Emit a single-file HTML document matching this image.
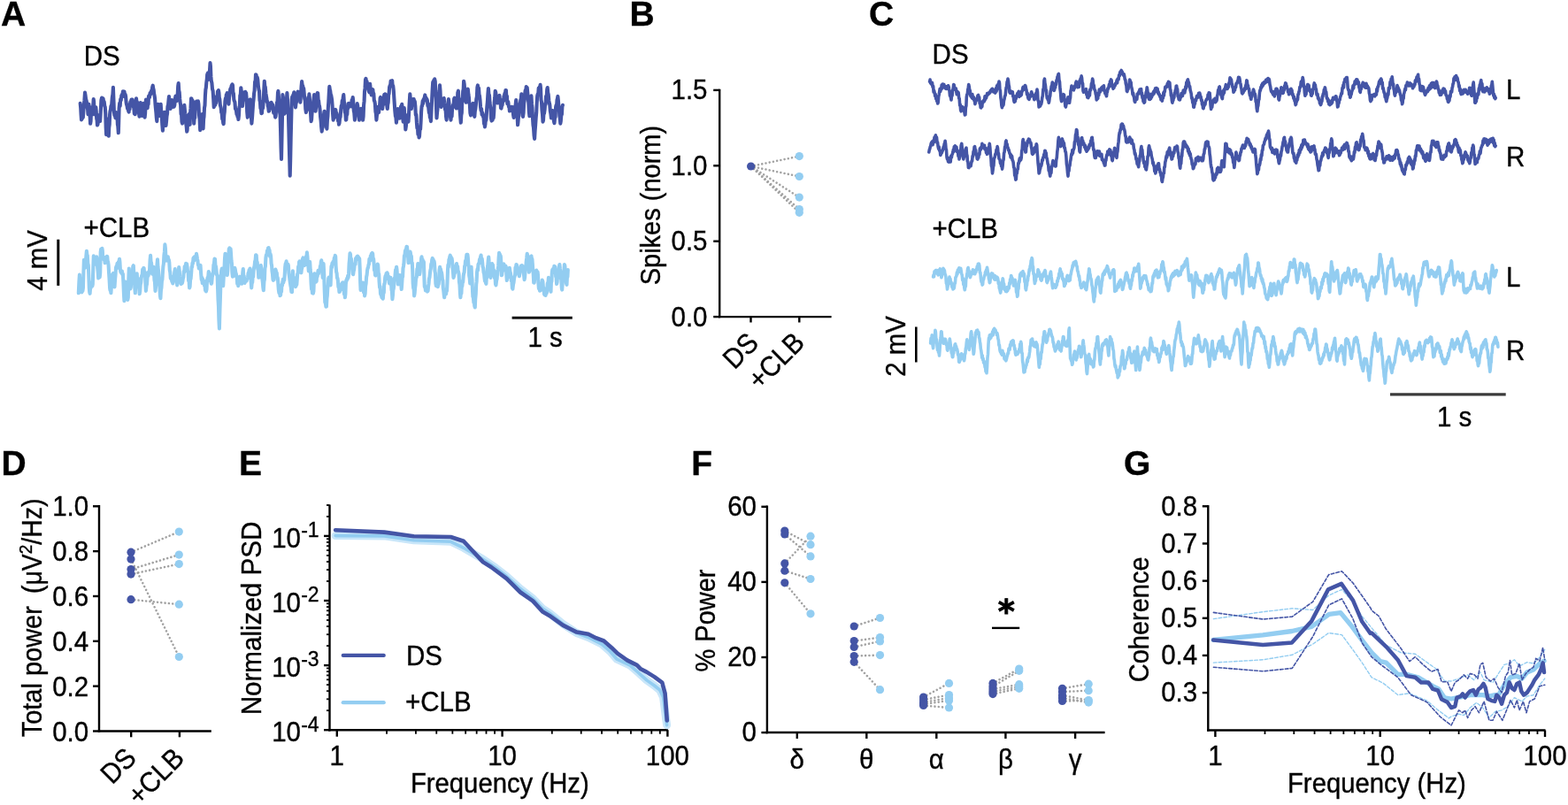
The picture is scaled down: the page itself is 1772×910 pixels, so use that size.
<!DOCTYPE html>
<html><head><meta charset="utf-8"><style>
html,body{margin:0;padding:0;background:#fff;}
svg{display:block;}
text{font-family:'Liberation Sans', Arial, sans-serif;fill:#000;stroke:#000;stroke-width:0.35px;}
</style></head><body>
<svg width="1772" height="910" viewBox="0 0 1772 910">
<rect width="1772" height="910" fill="#fff"/>
<text transform="translate(1.00 28.80)" font-size="39" font-weight="bold">A</text>
<text transform="translate(711.50 28.60)" font-size="39" font-weight="bold">B</text>
<text transform="translate(982.00 29.00)" font-size="39" font-weight="bold">C</text>
<text transform="translate(1.50 537.00)" font-size="39" font-weight="bold">D</text>
<text transform="translate(270.10 536.80)" font-size="39" font-weight="bold">E</text>
<text transform="translate(781.30 537.00)" font-size="39" font-weight="bold">F</text>
<text transform="translate(1270.00 537.00)" font-size="39" font-weight="bold">G</text>
<polyline points="90.7,116.9 91.2,122.0 91.6,129.7 92.0,135.4 92.5,132.5 92.9,134.3 93.3,131.6 93.8,132.7 94.3,126.9 94.9,118.5 95.4,113.4 96.0,104.6 96.5,107.6 97.1,112.2 97.6,113.6 98.2,116.9 98.6,121.3 99.1,123.7 99.5,129.2 99.9,126.3 100.4,117.8 100.8,122.9 101.3,129.5 101.7,132.1 102.1,139.8 102.6,136.8 103.0,125.5 103.5,121.3 103.9,125.3 104.3,123.3 104.8,129.2 105.2,120.8 105.7,112.1 106.1,114.9 106.5,124.5 107.0,129.2 107.4,126.1 107.8,124.3 108.3,121.3 108.7,125.3 109.2,134.2 109.6,135.8 110.0,141.5 110.5,140.6 110.9,133.6 111.4,134.2 111.8,130.1 112.2,130.6 112.7,135.0 113.1,137.1 113.6,129.0 114.0,122.0 114.4,113.4 115.0,110.6 115.5,114.0 116.1,111.0 116.6,111.6 117.2,116.0 117.7,114.9 118.3,119.9 118.8,121.3 119.3,128.9 119.7,144.2 120.1,152.1 120.6,145.4 121.0,142.3 121.5,134.5 121.9,139.1 122.3,150.3 122.8,153.8 123.2,144.3 123.7,140.7 124.1,129.4 124.5,125.7 125.0,123.9 125.4,119.9 125.9,121.7 126.3,116.9 126.8,110.4 127.4,106.6 127.9,98.9 128.4,112.2 128.9,125.7 129.4,130.3 129.8,127.8 130.3,132.7 130.7,133.4 131.1,127.1 131.6,129.8 132.0,127.5 132.5,130.8 132.9,140.9 133.3,142.6 133.8,150.3 134.2,137.8 134.6,122.2 135.2,116.5 135.7,119.8 136.2,112.1 136.8,113.2 137.3,108.1 137.8,107.0 138.4,108.7 138.9,103.3 139.5,104.6 140.0,108.9 140.5,103.6 141.1,108.2 141.6,106.8 142.1,109.0 142.6,115.7 143.0,117.8 143.5,119.5 144.1,122.9 144.6,122.5 145.1,125.2 145.6,126.6 146.1,123.5 146.5,123.5 147.0,117.6 147.4,115.1 147.9,115.3 148.5,112.5 149.0,116.1 149.6,112.5 150.0,115.2 150.5,119.9 150.9,121.3 151.3,121.4 151.8,128.3 152.2,124.4 152.7,129.2 153.1,126.1 153.5,116.3 154.0,111.2 154.4,115.1 154.9,115.0 155.3,121.8 155.7,121.3 156.2,120.7 156.6,127.1 157.1,128.6 157.5,131.8 157.9,127.4 158.4,120.5 158.8,116.0 159.3,121.4 159.7,121.5 160.1,128.1 160.6,131.0 161.0,127.4 161.4,125.4 161.9,119.2 162.3,116.9 162.8,124.1 163.2,124.2 163.6,132.7 164.1,128.3 164.5,117.5 165.0,112.5 165.4,117.0 165.8,115.0 166.3,119.9 166.7,122.2 167.2,115.6 167.6,117.8 168.0,108.7 168.5,108.1 169.0,110.0 169.6,105.0 170.1,106.8 170.7,104.6 171.2,102.3 171.7,102.8 172.2,98.5 172.7,96.7 173.2,99.8 173.7,101.7 174.1,105.8 174.6,108.1 175.1,111.6 175.5,117.7 175.9,122.2 176.4,127.2 176.8,132.7 177.3,137.1 177.7,130.3 178.1,125.5 178.6,117.8 179.0,121.0 179.5,127.3 179.9,125.6 180.3,131.0 180.8,127.1 181.2,121.3 181.7,117.8 182.2,126.4 182.8,131.5 183.3,140.6 183.9,147.7 184.3,139.6 184.8,140.7 185.3,130.5 185.8,126.9 186.3,133.6 186.9,136.6 187.5,141.9 188.0,137.6 188.5,131.4 189.0,128.7 189.5,120.3 190.0,119.0 190.5,113.7 191.0,109.0 191.5,116.9 192.1,116.5 192.7,122.9 193.3,120.1 193.8,114.5 194.4,113.1 194.9,114.7 195.3,114.3 195.8,120.9 196.3,116.1 196.7,120.6 197.3,118.9 197.9,111.6 198.5,108.5 199.0,112.6 199.6,114.2 200.1,108.6 200.7,106.8 201.2,97.3 201.7,94.0 202.2,102.3 202.7,104.2 203.2,111.7 203.7,116.5 204.1,118.4 204.6,129.1 205.0,127.5 205.5,137.7 206.0,139.6 206.4,132.7 206.9,133.8 207.3,126.4 207.8,124.8 208.3,118.8 208.7,122.6 209.2,128.9 209.7,133.7 210.2,139.8 210.7,143.0 211.2,148.8 211.6,147.3 212.1,137.7 212.5,138.6 213.0,130.0 213.5,129.2 214.0,138.4 214.6,140.8 215.1,127.7 215.5,122.4 216.0,111.3 216.5,111.6 217.0,114.1 217.6,113.7 218.1,115.4 218.7,128.2 219.2,139.6 219.7,132.9 220.2,133.4 220.6,122.9 221.1,122.8 221.5,116.5 222.0,114.5 222.5,119.6 223.0,116.8 223.5,119.6 223.9,114.4 224.4,117.7 225.0,130.2 225.6,134.8 226.2,147.1 226.6,145.2 227.1,139.4 227.5,139.1 228.0,131.7 228.5,129.2 229.0,140.0 229.6,145.4 230.1,134.7 230.5,132.0 231.0,121.9 231.5,119.1 231.9,108.5 232.4,101.1 232.8,99.3 233.3,93.5 233.8,89.6 234.2,84.2 234.8,82.7 235.4,90.0 236.0,88.8 236.5,82.4 237.0,79.7 237.5,71.0 237.9,74.4 238.4,86.7 238.8,91.2 239.4,93.8 240.0,100.7 240.6,102.7 241.2,111.5 241.7,121.2 242.2,119.7 242.7,114.8 243.2,118.7 243.7,113.2 244.1,116.6 244.6,111.9 245.1,108.5 245.5,111.0 246.0,103.2 246.5,104.8 246.9,102.1 247.4,104.8 247.8,110.3 248.3,112.0 248.8,118.4 249.2,120.0 249.7,122.0 250.2,127.2 250.7,128.2 251.2,134.6 251.7,133.2 252.2,138.9 252.7,140.2 253.3,129.6 253.8,126.0 254.4,114.2 254.9,111.0 255.3,113.7 255.8,107.0 256.3,108.7 256.7,105.0 257.3,107.4 257.9,113.5 258.5,117.7 259.0,110.6 259.6,107.2 260.2,101.0 260.7,99.8 261.1,101.4 261.6,96.9 262.0,98.0 262.5,95.2 263.0,96.5 263.4,104.7 263.9,105.5 264.3,112.2 264.8,114.2 265.4,115.4 266.0,123.0 266.5,123.5 267.0,125.0 267.5,129.2 268.0,128.4 268.5,132.1 268.9,130.4 269.4,135.0 269.9,130.8 270.4,121.2 270.9,119.7 271.3,108.0 271.8,106.7 272.3,99.2 272.9,104.1 273.5,114.8 274.0,120.0 274.6,113.6 275.2,113.1 275.8,106.2 276.2,104.4 276.7,107.5 277.2,103.8 277.6,108.4 278.1,105.0 278.7,111.9 279.2,126.4 279.8,132.7 280.3,126.1 280.8,126.8 281.2,120.7 281.7,122.4 282.2,113.0 282.7,112.5 283.3,122.0 283.8,130.2 284.4,139.6 285.0,133.4 285.6,124.0 286.1,116.5 286.6,112.0 287.1,105.5 287.6,102.7 288.1,92.3 288.6,92.7 289.0,84.2 289.6,84.9 290.2,89.0 290.8,87.7 291.3,90.1 291.9,97.4 292.5,101.5 293.0,103.0 293.5,113.7 293.9,114.1 294.4,122.5 294.9,122.3 295.4,128.1 296.0,127.8 296.5,120.9 297.1,122.3 297.7,114.9 298.3,101.4 298.8,91.7 299.3,97.4 299.8,98.4 300.4,105.5 300.9,108.6 301.3,110.8 301.8,115.4 302.3,114.7 302.8,120.1 303.2,121.0 303.7,125.7 304.2,125.5 304.7,122.3 305.1,121.8 305.6,116.9 306.1,119.1 306.6,115.7 307.1,117.3 307.6,122.6 308.2,118.4 308.7,122.9 309.2,127.6 309.7,125.4 310.1,128.0 310.6,128.4 311.1,132.6 311.6,131.4 312.0,125.7 312.5,122.3 313.0,115.7 313.5,115.5 314.0,104.8 314.4,102.9 315.0,110.5 315.5,115.9 316.0,126.3 316.6,130.0 317.0,144.7 317.5,165.7 318.0,180.0 318.5,155.4 319.0,131.6 319.4,107.1 320.0,110.2 320.5,119.3 321.0,123.0 321.6,128.6 322.0,127.8 322.5,118.6 323.0,119.5 323.5,112.6 324.0,111.8 324.4,105.0 324.9,112.2 325.4,122.7 325.9,127.1 326.3,143.5 326.8,164.0 327.2,178.8 327.7,198.6 328.2,180.3 328.7,154.8 329.2,134.7 329.7,112.9 330.2,109.4 330.7,110.2 331.3,107.3 331.8,106.5 332.3,104.3 332.9,109.8 333.4,116.4 334.0,121.4 334.5,116.8 335.0,115.3 335.5,108.1 336.1,108.1 336.6,103.6 337.0,103.9 337.5,108.2 338.0,108.5 338.5,111.7 339.0,112.8 339.4,115.7 340.0,107.9 340.6,97.5 341.1,92.1 341.7,96.7 342.2,96.9 342.7,101.9 343.2,99.8 343.7,105.7 344.2,111.4 344.8,113.6 345.3,123.3 345.9,127.1 346.4,122.5 346.9,124.1 347.4,116.9 347.9,117.0 348.4,110.0 348.9,112.7 349.4,106.4 350.0,112.9 350.5,124.6 351.0,127.1 351.6,137.1 352.1,135.0 352.6,127.2 353.1,125.5 353.6,119.8 354.1,116.2 354.6,111.2 355.1,107.1 355.6,115.9 356.1,118.7 356.6,125.7 357.1,121.1 357.6,115.1 358.2,113.0 358.7,105.0 359.2,105.3 359.7,113.7 360.1,113.7 360.6,118.7 361.1,120.1 361.6,124.3 362.1,131.9 362.6,135.9 363.2,144.0 363.7,148.6 364.2,143.9 364.7,144.2 365.1,133.8 365.6,135.2 366.1,128.7 366.6,125.7 367.0,132.3 367.5,131.3 368.0,136.9 368.5,139.0 369.0,143.7 369.4,145.7 369.9,136.1 370.4,131.5 370.9,121.1 371.3,115.5 371.8,105.8 372.3,97.9 372.8,101.3 373.2,102.6 373.7,106.7 374.2,107.7 374.7,110.4 375.1,112.9 375.6,119.4 376.1,128.9 376.6,135.7 377.0,131.8 377.5,133.7 378.0,127.4 378.5,130.3 379.0,123.8 379.4,124.3 379.9,129.6 380.4,127.7 381.0,132.4 381.5,130.3 382.0,136.5 382.5,135.9 383.0,140.7 383.5,139.2 384.1,133.1 384.6,132.3 385.1,125.7 385.7,119.6 386.2,121.7 386.7,113.9 387.2,116.1 387.8,109.8 388.3,107.1 388.8,114.6 389.3,116.9 389.8,127.1 390.3,127.3 390.9,135.7 391.3,135.4 391.8,127.5 392.3,129.5 392.8,121.0 393.2,122.6 393.7,117.1 394.2,116.8 394.7,118.2 395.1,118.1 395.6,120.3 396.1,119.2 396.6,120.0 397.1,120.3 397.6,113.1 398.2,114.6 398.7,110.0 399.2,114.3 399.8,125.2 400.3,127.6 400.9,135.7 401.3,132.6 401.8,126.8 402.3,129.0 402.8,121.6 403.2,122.1 403.7,117.1 404.2,119.5 404.8,126.7 405.3,128.6 405.9,135.7 406.4,133.4 406.9,129.0 407.5,127.0 408.0,122.9 408.5,123.6 409.1,130.0 409.6,130.0 410.1,135.7 410.6,131.4 411.1,118.8 411.6,114.2 412.0,103.6 412.5,99.9 413.0,90.0 413.5,88.8 414.1,95.0 414.6,92.1 415.1,95.7 415.7,98.1 416.2,99.5 416.8,103.0 417.3,104.3 417.7,97.0 418.1,94.8 418.7,100.1 419.2,101.3 419.7,107.4 420.2,105.3 420.7,103.0 421.3,101.1 421.8,105.4 422.3,105.6 422.8,113.6 423.4,114.7 423.9,117.6 424.4,126.1 424.9,128.6 425.4,135.6 426.0,129.8 426.5,121.0 427.0,121.5 427.5,125.5 428.1,127.2 428.6,119.9 429.1,119.3 429.6,111.0 430.1,110.0 430.7,116.4 431.2,116.5 431.7,121.3 432.2,123.0 432.8,116.2 433.3,118.2 433.8,109.4 434.3,106.9 434.8,107.9 435.4,106.4 435.9,110.5 436.4,107.4 436.9,111.9 437.3,119.8 437.8,123.0 438.2,118.2 438.7,116.1 439.2,106.7 439.6,106.1 440.1,98.5 440.6,96.9 441.1,97.5 441.6,91.6 442.2,95.9 442.7,91.6 443.2,91.2 443.7,97.9 444.2,96.8 444.8,102.2 445.3,109.9 445.8,117.5 446.3,125.1 446.9,131.3 447.4,132.6 447.9,138.7 448.4,134.5 448.9,127.8 449.5,123.0 450.0,127.7 450.5,128.9 451.0,133.5 451.6,133.7 452.1,128.3 452.6,128.2 453.1,120.2 453.6,120.8 454.2,117.8 454.7,121.3 455.2,133.5 455.7,137.7 456.3,126.8 456.8,122.0 457.3,131.2 457.8,137.1 458.3,146.5 458.9,142.5 459.4,132.4 459.9,130.4 460.4,134.8 461.0,134.0 461.5,137.7 461.9,131.3 462.4,121.1 462.8,114.3 463.3,106.3 463.8,111.6 464.4,120.3 464.9,123.0 465.3,118.6 465.8,119.3 466.2,112.6 466.7,112.2 467.2,114.3 467.7,112.1 468.3,114.9 468.8,114.7 469.3,119.4 469.8,129.9 470.4,129.7 470.9,138.7 471.4,144.8 471.9,143.2 472.4,151.8 473.0,148.9 473.5,155.4 474.0,154.2 474.5,146.7 475.1,146.0 475.6,137.5 476.1,126.1 476.6,119.9 477.1,119.8 477.7,114.0 478.2,117.1 478.7,112.3 479.2,111.8 479.8,110.0 480.3,107.4 480.8,111.6 481.3,110.2 481.8,113.6 482.4,112.0 482.9,113.6 483.4,119.6 483.9,117.3 484.5,124.1 484.9,127.6 485.4,127.1 485.9,132.9 486.4,132.6 486.9,137.1 487.3,129.6 487.8,118.8 488.2,111.1 488.7,100.9 489.2,92.8 489.7,95.7 490.2,90.9 490.7,93.2 491.2,89.3 491.8,92.2 492.2,105.9 492.7,111.3 493.1,123.6 493.5,133.5 494.0,127.5 494.5,123.2 495.0,116.4 495.5,112.6 496.0,106.2 496.5,102.6 497.0,96.4 497.5,102.7 498.0,115.8 498.6,121.0 499.1,116.8 499.6,119.0 500.1,114.6 500.6,116.1 501.2,111.4 501.7,111.0 502.2,116.3 502.7,119.0 503.1,124.2 503.6,124.1 504.1,131.9 504.6,135.6 505.1,129.2 505.5,128.3 506.0,118.5 506.4,117.5 506.9,112.1 507.4,115.9 508.0,122.3 508.5,124.8 509.0,132.4 509.5,135.6 510.0,128.9 510.6,131.6 511.1,122.3 511.6,121.9 512.1,118.3 512.7,117.4 513.2,111.6 513.7,110.7 514.2,117.5 514.7,116.1 515.3,120.3 515.8,122.5 516.3,116.2 516.8,115.7 517.3,104.8 517.9,102.7 518.4,111.6 518.8,111.4 519.3,121.5 519.8,126.3 520.3,133.2 520.8,138.7 521.3,130.2 521.8,127.6 522.2,115.4 522.7,114.3 523.2,102.9 523.7,101.0 524.1,91.7 524.7,95.0 525.2,103.2 525.7,106.0 526.2,113.6 526.7,115.7 527.3,111.2 527.8,111.3 528.3,102.2 528.8,100.6 529.4,106.6 529.9,110.1 530.4,116.3 530.9,118.3 531.4,127.8 532.0,130.4 532.5,127.3 533.0,125.2 533.5,120.4 534.1,121.5 534.6,116.8 535.1,120.5 535.7,127.6 536.3,131.9 536.8,125.5 537.3,123.2 537.8,118.8 538.3,112.2 538.9,109.2 539.4,98.7 539.9,96.4 540.4,101.6 541.0,99.4 541.5,107.0 542.0,108.4 542.5,113.2 543.0,120.4 543.6,125.1 544.1,122.9 544.6,129.6 545.1,127.2 545.7,129.3 546.1,132.2 546.6,133.2 547.0,140.0 547.5,139.1 547.9,143.4 548.4,140.7 548.9,134.0 549.4,135.9 549.8,129.3 550.3,121.2 550.9,114.8 551.4,106.2 551.9,100.0 552.4,106.4 553.0,107.6 553.5,115.6 554.0,119.9 554.5,122.7 555.0,133.5 555.6,136.6 556.1,134.1 556.6,135.7 557.1,130.9 557.7,133.4 558.2,126.8 558.7,115.3 559.2,111.1 559.7,102.7 560.3,104.9 560.8,111.2 561.3,110.7 561.8,114.7 562.3,116.5 562.9,110.3 563.4,111.2 563.9,108.5 564.4,107.9 565.0,112.9 565.5,112.9 566.0,122.1 566.5,122.5 567.0,119.5 567.6,118.9 568.1,114.3 568.6,112.6 569.1,114.1 569.5,108.6 570.0,107.5 570.5,105.4 571.0,105.2 571.4,102.1 571.9,102.0 572.4,111.0 572.9,108.4 573.3,117.2 573.8,116.7 574.3,115.0 574.9,120.6 575.4,120.3 575.9,125.5 576.4,121.2 577.0,125.1 577.5,124.2 578.0,120.7 578.5,123.2 579.0,120.9 579.6,123.6 580.1,130.0 580.6,132.9 581.1,128.4 581.7,125.0 582.2,120.1 582.7,118.2 583.2,113.1 583.7,116.9 584.2,127.6 584.6,130.9 585.1,141.3 585.5,137.7 586.0,131.4 586.4,131.1 586.9,124.0 587.4,117.7 587.8,118.4 588.3,113.2 588.8,111.5 589.3,106.3 589.7,111.4 590.2,122.2 590.6,124.8 591.0,131.9 591.6,127.2 592.1,116.9 592.6,114.1 593.1,106.7 593.7,102.1 594.2,104.1 594.7,98.0 595.2,99.9 595.7,99.0 596.3,105.4 596.8,112.2 597.3,115.3 597.8,125.8 598.4,131.3 598.9,123.1 599.4,122.9 599.9,113.0 600.4,108.4 601.0,117.7 601.5,121.8 602.0,133.4 602.5,141.4 603.0,144.3 603.6,153.5 604.1,156.9 604.6,147.8 605.1,141.8 605.7,132.8 606.2,127.3 606.7,116.7 607.2,108.4 607.7,106.3 608.2,106.7 608.7,99.6 609.2,101.2 609.6,98.6 610.1,99.2 610.6,95.9 611.0,99.6 611.5,113.0 612.0,115.4 612.5,124.6 613.0,129.2 613.5,137.6 614.0,135.9 614.5,127.7 615.0,128.1 615.6,124.0 616.1,117.1 616.6,118.2 617.1,108.7 617.7,110.0 618.2,101.1 618.7,99.0 619.2,104.6 619.7,106.8 620.3,113.5 620.8,116.7 621.3,118.3 621.8,125.4 622.4,128.6 622.9,133.4 623.4,133.2 623.9,127.0 624.4,125.1 625.0,128.8 625.5,132.0 626.0,137.5 626.5,139.2 627.0,133.0 627.6,132.3 628.1,120.9 628.6,118.8 629.1,119.7 629.5,113.0 629.9,111.7 630.4,108.9 630.9,113.7 631.4,120.9 631.8,121.9 632.3,131.0 632.8,133.8 633.3,139.7 633.8,136.9 634.4,129.2 634.9,129.5 635.4,120.5 635.9,118.8" fill="none" stroke="#4455a6" stroke-width="4.1" stroke-linejoin="round" stroke-linecap="round"/>
<polyline points="88.8,331.3 89.4,318.1 89.9,310.6 90.5,318.3 91.1,321.4 91.6,324.0 92.0,330.2 92.4,330.3 92.9,327.7 93.4,329.0 93.9,325.4 94.4,308.3 94.9,293.7 95.4,299.2 95.9,299.0 96.4,302.6 96.9,297.2 97.4,289.3 97.9,283.8 98.4,288.3 98.8,288.8 99.3,297.7 99.8,299.7 100.3,311.4 100.8,325.4 101.2,330.0 101.6,331.8 102.2,324.3 102.7,325.3 103.3,319.5 103.8,319.3 104.3,323.5 104.8,321.4 105.3,303.1 105.8,289.3 106.2,295.0 106.7,293.6 107.1,297.9 107.6,298.7 108.1,293.1 108.7,295.9 109.2,290.3 109.7,293.2 110.2,302.5 110.7,307.5 111.2,314.5 111.7,313.4 112.2,310.9 112.7,313.4 113.2,308.6 113.7,284.8 114.2,281.5 114.8,285.4 115.4,280.9 115.8,283.2 116.2,291.1 116.7,291.8 117.1,290.8 117.6,293.8 118.1,290.9 118.6,297.3 119.1,294.7 119.7,292.7 120.2,293.5 120.8,289.8 121.3,290.1 121.7,295.5 122.1,295.9 122.6,299.7 123.1,308.7 123.6,316.1 124.1,325.4 124.5,328.2 124.9,327.3 125.4,331.3 125.9,323.6 126.5,311.5 127.0,310.4 127.5,310.6 128.0,308.9 128.5,309.6 129.0,319.3 129.5,324.4 130.0,316.5 130.5,311.0 131.0,302.6 131.5,301.0 132.0,303.4 132.5,297.8 133.0,298.9 133.5,297.7 134.0,295.7 134.5,295.7 135.0,292.7 135.4,295.8 135.9,304.8 136.4,307.6 136.9,307.7 137.4,308.9 137.9,306.4 138.4,310.6 138.9,309.6 139.4,318.8 139.9,331.1 140.4,340.2 141.0,326.1 141.6,318.5 142.0,323.7 142.5,324.9 142.9,332.3 143.4,335.3 143.9,334.2 144.3,338.9 144.8,336.3 145.3,316.6 145.8,303.6 146.3,312.5 146.8,318.1 147.3,326.4 147.8,325.1 148.3,318.2 148.8,315.2 149.3,308.3 149.8,309.1 150.3,301.1 150.8,300.2 151.3,309.3 151.8,312.7 152.3,325.1 152.8,331.3 153.2,323.5 153.7,316.9 154.2,309.6 154.7,309.3 155.2,315.0 155.7,314.5 156.2,315.9 156.7,323.7 157.2,325.7 157.7,332.3 158.2,329.1 158.7,321.7 159.2,319.5 159.7,314.5 160.2,311.3 160.7,311.7 161.2,304.5 161.7,305.8 162.2,303.1 162.6,303.0 163.1,308.8 163.6,307.6 164.1,311.4 164.5,322.4 164.9,328.9 165.5,323.0 166.0,321.2 166.6,312.5 167.1,308.0 167.6,311.7 168.1,308.6 168.6,307.6 169.1,304.5 169.6,293.7 170.1,288.8 170.6,297.1 171.1,297.1 171.5,307.2 172.0,309.6 172.5,306.4 173.0,307.0 173.5,301.7 174.0,307.7 174.5,316.6 175.0,319.2 175.5,328.9 176.0,324.6 176.5,314.0 177.0,308.2 177.5,299.0 178.0,293.2 178.5,302.1 179.0,306.1 179.5,314.5 180.0,320.6 180.5,325.0 180.9,334.0 181.4,337.3 181.9,328.3 182.4,325.5 182.9,317.5 183.4,316.1 183.9,307.6 184.4,301.2 184.9,298.0 185.4,288.5 185.9,284.7 186.4,276.4 186.9,280.7 187.4,290.8 187.9,294.7 188.4,291.7 188.9,290.8 189.4,292.9 189.8,290.3 190.3,294.4 190.8,293.7 191.3,296.7 191.8,305.6 192.3,307.8 192.8,314.5 193.3,315.2 193.8,313.7 194.3,318.2 194.8,316.3 195.3,320.4 195.8,318.5 196.3,312.2 196.8,312.9 197.3,307.1 197.8,304.1 198.3,309.4 198.7,311.1 199.2,315.5 199.7,317.3 200.2,322.4 200.7,317.7 201.2,310.8 201.7,309.0 202.2,302.1 202.7,306.1 203.2,312.5 203.7,314.1 204.2,318.5 204.7,321.0 205.3,315.8 205.8,320.2 206.3,318.5 206.8,314.8 207.3,313.3 207.7,306.8 208.2,307.8 208.7,301.2 209.1,300.7 209.6,304.1 210.1,297.8 210.6,303.6 211.1,298.4 211.5,301.2 212.0,306.7 212.6,307.5 213.1,317.4 213.6,317.3 214.1,325.4 214.6,324.2 215.1,316.2 215.6,315.1 216.2,308.1 216.6,301.7 217.1,301.8 217.5,297.2 218.0,297.7 218.5,291.9 219.0,291.1 219.5,294.4 220.0,290.1 220.5,293.5 221.0,290.0 221.5,291.9 222.0,286.8 222.5,289.6 223.0,293.1 223.4,294.3 223.9,299.6 224.3,299.6 224.8,303.5 225.4,302.4 226.0,300.5 226.5,300.0 227.1,308.6 227.7,316.2 228.2,313.7 228.7,320.0 229.1,315.4 229.6,319.8 230.1,317.3 230.6,320.8 231.0,322.9 231.5,322.4 232.0,328.1 232.4,326.5 232.9,329.4 233.5,327.2 234.0,317.1 234.6,313.8 235.2,313.9 235.8,307.0 236.3,308.1 236.8,311.0 237.3,309.8 237.7,317.8 238.2,316.9 238.7,320.8 239.2,320.0 239.8,312.9 240.4,310.4 240.9,309.3 241.4,299.5 241.9,298.2 242.5,292.5 243.0,292.9 243.4,300.1 243.9,301.0 244.4,304.6 245.0,310.6 245.6,311.5 246.0,323.4 246.5,338.3 247.0,346.7 247.4,361.7 247.9,371.5 248.5,348.6 249.0,334.3 249.6,312.7 250.2,305.8 250.8,303.5 251.2,311.1 251.7,316.5 252.2,323.1 252.6,315.9 253.1,308.0 253.5,303.4 254.0,292.5 254.5,286.7 254.9,293.3 255.4,293.4 255.8,301.7 256.3,305.3 256.8,311.0 257.3,305.8 257.8,296.2 258.3,288.9 258.8,281.5 259.4,280.3 260.0,281.9 260.6,281.5 261.0,286.6 261.5,294.8 262.0,298.2 262.4,308.5 262.9,312.7 263.4,310.7 263.8,312.1 264.3,307.0 264.8,307.8 265.3,302.8 265.8,304.6 266.3,308.1 266.8,309.4 267.3,312.9 267.7,313.0 268.2,320.8 268.7,317.8 269.2,323.1 269.8,321.0 270.4,315.3 271.0,312.7 271.4,314.3 271.9,313.7 272.3,319.4 272.8,318.0 273.3,320.8 273.8,317.4 274.3,308.1 274.8,304.0 275.2,312.4 275.7,311.9 276.2,319.6 276.6,319.8 277.1,315.2 277.6,317.8 278.1,315.2 278.6,317.7 279.1,314.8 279.6,315.0 280.1,313.3 280.6,308.5 281.1,309.3 281.5,305.4 282.0,308.6 282.5,303.5 283.1,310.3 283.7,318.8 284.2,325.4 284.7,319.5 285.2,319.4 285.7,311.7 286.2,312.8 286.6,305.6 287.1,302.3 287.6,300.6 288.1,295.7 288.6,294.2 289.1,288.2 289.7,288.5 290.2,296.2 290.7,296.2 291.2,303.7 291.8,305.9 292.3,313.8 292.8,313.6 293.3,306.7 293.8,308.1 294.3,301.2 294.8,300.0 295.3,305.5 295.8,309.1 296.3,314.9 296.8,318.7 297.3,324.7 297.8,328.3 298.4,318.3 298.9,315.9 299.4,303.2 299.9,301.1 300.4,291.3 300.9,288.2 301.4,288.8 302.0,283.3 302.5,285.3 303.0,280.4 303.6,280.1 304.1,284.4 304.6,282.8 305.1,289.8 305.6,287.3 306.1,289.6 306.6,297.9 307.1,300.2 307.5,306.4 308.0,310.0 308.5,316.2 308.9,316.8 309.4,309.1 309.9,312.9 310.4,307.3 310.9,309.5 311.3,304.6 311.8,305.8 312.3,310.0 312.8,308.5 313.3,316.0 313.7,313.8 314.2,318.5 314.8,327.1 315.4,331.2 316.0,328.6 316.5,334.3 317.1,333.5 317.6,327.6 318.0,329.8 318.5,321.5 319.0,322.9 319.4,318.5 319.9,315.6 320.3,319.5 320.8,316.1 321.3,316.7 321.7,311.2 322.2,302.1 322.7,298.0 323.1,298.4 323.6,295.2 324.1,299.0 324.5,298.5 325.0,299.2 325.5,298.9 325.9,300.1 326.4,308.8 326.9,312.0 327.3,315.0 327.8,319.0 328.3,322.3 328.8,324.8 329.4,329.9 330.0,330.2 330.4,316.2 330.9,306.4 331.4,313.5 331.9,313.2 332.5,320.4 332.9,321.5 333.4,320.0 333.9,324.1 334.3,323.7 334.8,318.6 335.3,321.8 335.7,316.7 336.2,309.5 336.7,308.7 337.1,301.4 337.6,303.4 338.1,296.1 338.5,295.4 339.0,301.4 339.5,302.7 339.9,306.2 340.4,308.3 340.9,304.0 341.4,302.8 341.9,292.9 342.5,291.5 343.0,296.4 343.6,294.3 344.1,299.9 344.6,299.6 345.1,294.1 345.5,293.0 346.0,289.9 346.5,290.4 346.9,285.4 347.4,290.0 347.9,297.0 348.3,299.7 348.8,306.4 349.3,303.1 349.7,298.7 350.2,296.1 350.7,304.8 351.1,309.1 351.6,320.5 352.1,327.0 352.5,326.3 353.0,331.2 353.5,326.6 353.9,331.7 354.4,329.3 355.2,309.2 355.7,309.4 356.2,314.0 356.7,314.8 357.2,318.6 357.7,317.7 358.1,311.3 358.6,312.7 359.1,309.2 359.5,305.9 360.0,309.2 360.5,305.7 361.0,305.5 361.4,306.2 361.9,300.7 362.4,301.5 362.8,295.9 363.3,294.3 363.8,300.8 364.2,306.7 364.7,313.9 365.2,308.5 365.6,298.0 366.2,309.3 366.7,327.3 367.3,341.9 367.8,341.8 368.4,346.7 368.9,346.6 369.4,337.5 369.8,334.5 370.3,325.8 370.8,322.3 371.2,314.8 371.7,313.5 372.2,318.7 372.6,316.1 373.1,321.8 373.6,322.3 374.0,310.8 374.5,300.8 375.0,302.4 375.4,297.6 375.9,298.9 376.4,295.7 376.8,297.1 377.3,296.0 377.8,291.6 378.2,295.2 378.7,288.8 379.2,290.1 379.6,300.8 380.1,307.3 380.6,308.9 381.0,314.3 381.5,314.4 382.0,318.6 382.4,324.4 382.9,323.9 383.4,330.0 383.8,329.8 384.3,328.2 384.8,327.5 385.2,324.5 385.7,327.0 386.2,320.7 386.6,322.2 387.1,319.5 387.6,319.3 388.0,325.9 388.5,326.3 389.0,332.5 389.4,330.9 389.9,336.3 390.4,332.3 390.8,321.0 391.3,316.7 391.8,317.3 392.2,314.5 392.7,315.5 393.2,311.6 393.6,313.9 394.1,309.2 394.6,297.6 395.0,293.8 395.5,286.3 396.0,287.5 396.4,294.3 396.9,292.4 397.4,297.1 397.8,300.8 398.3,302.0 398.8,309.9 399.2,310.1 399.7,306.3 400.2,304.7 400.6,300.0 401.1,298.0 401.6,298.8 402.0,292.0 402.5,293.8 403.0,291.1 403.4,290.1 403.9,291.3 404.4,289.7 404.8,293.0 405.3,291.1 405.8,293.1 406.2,292.4 406.7,303.6 407.2,319.4 407.6,327.9 408.1,323.7 408.6,324.9 409.0,319.6 409.5,321.5 410.0,319.5 410.5,321.9 411.0,330.3 411.6,328.0 412.1,334.4 412.6,332.1 413.1,323.3 413.6,320.6 414.1,313.0 414.6,310.7 415.1,305.5 415.6,302.8 416.0,302.8 416.5,299.3 417.0,298.7 417.4,292.7 417.9,293.3 418.4,294.5 418.8,289.2 419.3,291.8 419.8,286.8 420.2,287.6 420.7,285.9 421.2,286.9 421.6,293.3 422.1,292.5 422.6,298.0 423.0,305.5 423.5,305.3 424.0,311.1 424.4,311.4 424.9,305.3 425.4,307.7 425.8,303.9 426.3,305.5 426.8,298.5 427.2,299.9 427.7,308.7 428.2,309.9 428.6,318.6 429.1,325.2 429.6,323.7 430.0,331.9 430.5,333.5 431.0,332.8 431.4,336.2 431.9,333.9 432.4,337.2 432.8,337.7 433.3,331.5 433.8,330.8 434.2,321.0 434.7,320.8 435.2,313.9 435.6,311.9 436.1,313.1 436.6,309.0 437.0,311.5 437.5,308.3 438.0,309.3 438.6,315.4 439.1,312.4 439.6,318.6 440.1,320.4 440.6,316.0 441.1,318.7 441.5,313.9 442.0,318.6 442.5,327.7 442.9,328.8 443.4,338.2 443.9,334.1 444.3,327.9 444.8,326.1 445.3,321.4 445.7,314.6 446.2,316.5 446.7,309.2 447.1,305.0 447.6,304.6 448.1,301.7 448.5,304.7 449.0,313.4 449.5,314.0 449.9,321.4 450.4,320.5 450.9,314.0 451.3,316.5 451.8,311.1 452.3,313.3 452.7,320.4 453.2,319.8 453.7,327.0 454.1,322.4 454.6,314.2 455.1,312.6 455.5,303.4 456.0,300.8 456.5,297.0 456.9,289.1 457.4,289.4 457.9,284.0 458.4,282.5 458.9,282.4 459.5,278.8 460.0,278.9 460.6,285.0 461.1,289.6 461.6,297.1 462.1,295.4 462.5,288.4 463.0,288.8 463.5,284.5 463.9,286.1 464.4,290.3 464.9,289.5 465.3,297.8 465.8,297.1 466.3,307.0 466.7,320.4 467.2,325.8 467.7,327.0 468.1,334.4 468.6,331.7 469.1,325.5 469.5,322.5 470.0,315.4 470.5,313.9 470.9,312.7 471.4,303.8 471.9,303.6 472.3,298.0 472.8,299.1 473.3,304.8 473.7,303.8 474.2,310.1 474.7,306.9 475.1,299.1 475.6,299.6 476.1,292.4 476.5,290.3 477.0,295.2 477.5,293.3 478.0,296.8 478.4,295.1 478.9,296.1 479.4,313.0 479.8,324.2 480.4,323.6 480.9,328.4 481.4,325.2 482.0,328.1 482.5,326.6 483.0,329.6 483.6,328.8 484.0,324.3 484.5,321.0 485.0,314.6 485.4,314.1 485.9,309.2 486.4,305.3 486.8,304.1 487.3,298.3 487.8,298.3 488.2,293.8 488.7,291.9 489.2,296.6 489.6,293.4 490.1,298.1 490.6,295.2 491.0,297.9 491.5,306.6 492.0,309.2 492.4,320.7 492.9,323.2 493.4,320.2 493.8,323.1 494.3,319.5 494.8,324.1 495.2,321.6 495.7,321.4 496.2,314.9 496.6,305.0 497.1,301.7 497.6,305.7 498.0,304.3 498.5,307.1 499.0,308.0 499.4,310.1 499.9,315.7 500.4,317.0 500.8,325.6 501.3,328.7 501.8,334.0 502.2,336.3 502.7,329.8 503.2,332.3 503.6,328.0 504.1,332.4 504.6,326.9 505.0,328.8 505.5,319.4 506.0,305.5 506.4,299.4 506.9,302.0 507.4,293.4 507.8,293.8 508.3,290.1 508.8,288.7 509.2,293.9 509.7,290.6 510.2,295.6 510.6,292.1 511.1,296.1 511.6,303.9 512.0,307.1 512.5,313.9 513.0,312.4 513.5,308.9 514.0,308.8 514.5,304.6 515.0,304.1 515.5,299.8 516.0,298.0 516.6,302.0 517.1,301.0 517.6,306.8 518.1,307.3 518.6,310.2 519.0,318.9 519.5,321.9 520.0,332.1 520.4,336.3 520.9,330.9 521.4,331.6 521.8,323.0 522.3,323.7 522.8,317.5 523.2,318.8 523.7,312.0 524.2,308.8 524.6,308.2 525.1,300.9 525.6,300.1 526.0,294.9 526.5,296.3 527.0,291.0 527.4,287.8 527.9,292.1 528.4,287.7 528.8,291.0 529.3,298.6 529.8,301.1 530.2,311.7 530.7,314.4 531.2,320.4 531.6,316.6 532.1,305.8 532.6,301.7 533.0,311.3 533.5,315.6 534.0,328.2 534.4,335.4 534.9,336.2 535.4,342.0 535.8,340.0 536.3,345.8 536.8,347.5 537.2,338.0 537.7,332.9 538.2,321.5 538.6,318.2 539.1,307.3 539.6,304.0 540.0,305.5 540.5,299.0 541.0,298.0 541.5,297.7 542.0,293.1 542.6,293.8 543.1,290.1 543.6,288.5 544.2,295.8 544.7,292.6 545.2,297.1 545.6,301.6 546.1,302.7 546.6,308.2 547.0,308.5 547.5,313.9 548.0,317.8 548.4,314.7 548.9,319.3 549.4,320.9 549.8,313.4 550.3,313.8 550.8,303.9 551.2,300.8 551.7,294.6 552.2,290.5 552.6,295.2 553.1,299.2 553.6,307.7 554.0,307.1 554.5,313.9 555.1,310.9 555.6,300.7 556.2,298.1 556.6,303.0 557.0,299.6 557.5,305.5 557.9,305.1 558.4,306.4 559.0,314.4 559.5,313.4 560.0,321.2 560.5,322.3 561.1,317.1 561.6,315.5 562.2,307.2 562.7,304.3 563.2,300.7 563.6,291.6 564.1,285.8 564.5,287.3 564.9,287.4 565.4,291.1 565.8,289.3 566.3,297.2 566.7,311.3 567.2,310.9 567.8,304.8 568.3,306.2 568.9,300.8 569.4,298.4 569.9,303.3 570.4,300.8 570.9,303.0 571.5,300.8 572.0,302.5 572.4,310.8 572.8,317.0 573.4,312.7 573.9,313.6 574.4,305.4 575.0,306.0 575.5,303.0 575.9,302.9 576.4,306.8 576.8,308.2 577.2,310.4 577.8,317.2 578.3,316.6 578.9,325.7 579.4,326.7 580.0,321.5 580.5,319.5 581.1,314.5 581.6,312.2 582.1,310.9 582.5,302.4 583.0,305.6 583.4,299.0 583.9,299.3 584.4,304.2 584.9,304.3 585.4,308.7 585.9,307.7 586.4,310.8 586.9,312.2 587.3,308.9 587.8,305.8 588.2,302.5 588.7,300.5 589.3,303.5 589.8,300.1 590.3,304.0 590.8,301.0 591.3,304.3 591.7,308.7 592.2,312.1 592.6,316.1 593.1,313.7 593.6,305.5 594.2,303.9 594.7,295.9 595.2,291.8 595.7,286.7 596.2,289.3 596.8,299.7 597.3,299.6 597.9,307.8 598.4,305.8 599.0,298.5 599.5,296.4 600.1,289.8 600.5,289.4 601.0,295.5 601.4,292.9 601.8,298.1 602.3,306.2 602.7,309.2 603.2,319.6 603.7,319.7 604.2,314.9 604.7,312.7 605.2,308.1 605.7,310.7 606.2,305.6 606.7,306.7 607.1,309.5 607.6,307.4 608.0,311.3 608.4,319.3 608.9,326.2 609.4,323.8 610.0,328.8 610.5,327.4 611.1,328.0 611.5,326.4 612.0,320.3 612.4,320.9 612.8,316.6 613.4,318.2 613.9,325.0 614.5,325.7 615.0,332.4 615.6,333.4 616.1,329.8 616.6,334.0 617.1,330.3 617.7,331.5 618.2,328.4 618.8,320.1 619.3,321.5 619.9,313.9 620.4,314.4 620.9,322.2 621.4,322.4 622.0,326.8 622.5,329.8 622.9,319.4 623.4,318.1 623.8,308.7 624.3,304.8 624.8,307.8 625.3,303.6 625.8,308.0 626.3,300.8 626.8,304.7 627.3,301.6 627.8,305.4 628.2,312.8 628.6,313.1 629.1,321.0 629.6,319.1 630.0,312.4 630.5,313.6 631.0,305.4 631.5,308.0 631.9,301.2 632.4,299.0 632.9,303.8 633.4,307.6 633.8,314.7 634.3,316.0 634.8,325.6 635.2,327.6 635.8,318.8 636.3,316.3 636.8,307.6 637.3,307.5 637.9,299.0 638.4,300.6 638.9,310.1 639.5,311.8 640.0,320.2 640.5,321.8 640.9,313.5 641.4,313.0 641.8,305.1" fill="none" stroke="#93cdf1" stroke-width="4.1" stroke-linejoin="round" stroke-linecap="round"/>
<polyline points="1050.6,92.3 1051.1,90.1 1051.5,93.9 1052.0,93.0 1052.5,95.1 1053.0,93.9 1053.5,93.5 1054.0,98.2 1054.6,97.4 1055.1,104.0 1055.6,102.5 1056.2,105.1 1056.7,108.5 1057.2,106.6 1057.7,111.5 1058.2,111.3 1058.7,114.3 1059.2,113.2 1059.7,117.0 1060.2,115.8 1060.7,109.0 1061.2,107.1 1061.7,103.5 1062.2,100.2 1062.7,103.6 1063.2,99.8 1063.7,101.1 1064.2,96.0 1064.7,100.0 1065.2,95.0 1065.7,95.5 1066.2,97.6 1066.8,95.4 1067.3,98.4 1067.8,98.1 1068.4,100.0 1068.9,100.3 1069.4,97.9 1070.0,100.5 1070.5,97.5 1071.0,99.8 1071.6,96.8 1072.1,97.9 1072.6,100.8 1073.0,102.8 1073.5,108.3 1074.0,106.9 1074.5,110.8 1075.0,113.0 1075.5,107.8 1076.0,108.2 1076.6,102.1 1077.1,100.7 1077.7,95.5 1078.2,96.0 1078.7,99.9 1079.3,99.8 1079.8,101.4 1080.3,100.0 1080.9,104.3 1081.3,106.8 1081.8,103.2 1082.3,106.3 1082.8,104.2 1083.2,105.1 1083.7,111.1 1084.2,111.5 1084.7,119.2 1085.2,118.2 1085.6,124.2 1086.1,125.8 1086.6,120.2 1087.1,123.0 1087.5,121.5 1088.0,121.0 1088.5,123.0 1089.0,123.4 1089.5,125.6 1089.9,126.7 1090.4,129.9 1090.9,129.8 1091.4,121.5 1091.9,119.5 1092.3,109.8 1092.8,106.7 1093.3,106.4 1093.8,100.9 1094.2,100.0 1094.7,95.5 1095.2,97.6 1095.8,102.2 1096.3,102.4 1096.8,108.2 1097.3,109.2 1097.9,107.2 1098.4,110.8 1098.9,106.6 1099.4,111.5 1100.0,109.8 1100.5,110.0 1100.9,113.6 1101.4,113.2 1101.9,117.6 1102.4,116.2 1102.9,112.0 1103.4,113.9 1104.0,111.7 1104.5,111.1 1105.0,107.9 1105.6,107.5 1106.1,112.4 1106.6,109.7 1107.2,117.0 1107.7,116.9 1108.2,121.6 1108.7,121.8 1109.3,118.3 1109.8,120.7 1110.3,114.7 1110.9,116.1 1111.4,114.1 1111.9,113.0 1112.5,114.3 1113.0,108.8 1113.5,112.5 1114.1,109.0 1114.6,110.7 1115.1,108.2 1115.7,105.5 1116.2,107.2 1116.7,105.3 1117.2,106.3 1117.8,104.6 1118.3,104.3 1118.8,104.9 1119.4,102.5 1119.9,102.9 1120.4,101.2 1121.0,102.8 1121.5,100.3 1122.0,101.0 1122.6,103.9 1123.1,102.1 1123.6,103.6 1124.2,101.7 1124.7,105.1 1125.2,104.2 1125.6,99.6 1126.1,103.2 1126.6,96.8 1127.1,97.9 1127.5,97.5 1128.0,95.0 1128.5,95.8 1129.0,92.1 1129.5,93.9 1129.9,101.4 1130.4,102.3 1130.9,110.5 1131.4,113.4 1131.9,119.4 1132.4,121.7 1132.9,118.1 1133.4,119.4 1134.0,118.5 1134.5,113.7 1135.0,112.1 1135.6,108.6 1136.1,108.1 1136.6,103.5 1137.1,99.0 1137.6,98.1 1138.1,92.4 1138.5,92.7 1139.0,89.1 1139.5,91.2 1140.0,95.9 1140.5,97.9 1140.9,104.2 1141.4,105.1 1141.9,104.0 1142.4,105.2 1142.8,103.2 1143.3,105.3 1143.8,104.3 1144.3,104.0 1144.8,109.0 1145.2,108.2 1145.7,113.3 1146.2,115.4 1146.7,111.6 1147.2,114.7 1147.7,110.9 1148.2,111.6 1148.7,108.1 1149.2,108.4 1149.7,105.8 1150.2,105.1 1150.7,106.6 1151.2,103.3 1151.8,109.4 1152.3,104.6 1152.8,108.0 1153.4,108.2 1153.8,105.7 1154.3,107.3 1154.8,102.8 1155.3,103.3 1155.8,99.5 1156.3,98.3 1156.8,101.4 1157.4,98.2 1157.9,100.1 1158.4,96.5 1158.9,97.1 1159.5,99.9 1160.0,101.9 1160.5,106.6 1161.1,105.2 1161.6,109.6 1162.1,111.4 1162.6,109.4 1163.1,112.4 1163.6,108.4 1164.1,109.8 1164.6,107.1 1165.1,107.2 1165.6,103.7 1166.1,105.1 1166.6,108.2 1167.2,106.9 1167.7,108.9 1168.2,109.6 1168.8,112.7 1169.3,112.2 1169.8,108.6 1170.4,108.5 1170.9,105.0 1171.5,105.0 1172.0,101.1 1172.5,104.1 1173.0,113.3 1173.6,114.4 1174.1,121.0 1174.6,120.5 1175.1,118.7 1175.7,119.9 1176.2,115.6 1176.7,117.7 1177.3,114.6 1177.8,110.2 1178.3,108.4 1178.9,100.9 1179.4,100.0 1179.9,91.0 1180.5,89.1 1180.9,94.0 1181.4,96.1 1181.9,102.2 1182.4,101.8 1182.8,106.7 1183.3,111.0 1183.8,109.7 1184.3,112.9 1184.8,112.0 1185.2,116.2 1185.7,114.4 1186.2,110.0 1186.7,108.6 1187.2,103.0 1187.7,101.8 1188.2,97.4 1188.7,97.2 1189.2,93.1 1189.7,93.4 1190.2,97.0 1190.7,96.4 1191.1,102.4 1191.6,101.9 1192.1,97.6 1192.6,99.1 1193.0,94.4 1193.5,95.6 1194.0,90.6 1194.5,91.0 1195.0,86.6 1195.4,89.9 1195.9,84.0 1196.4,83.5 1196.9,90.2 1197.5,92.4 1198.0,100.6 1198.5,104.2 1199.1,112.2 1199.6,114.6 1200.1,112.4 1200.5,111.9 1201.0,109.6 1201.5,108.9 1202.0,106.7 1202.5,107.2 1202.9,112.5 1203.4,115.0 1203.9,120.1 1204.4,121.0 1204.9,118.2 1205.4,116.6 1205.9,112.6 1206.5,113.7 1207.0,109.8 1207.5,110.5 1208.0,116.1 1208.6,116.2 1209.1,112.1 1209.5,111.0 1210.0,102.7 1210.5,101.0 1211.0,97.1 1211.4,97.7 1211.9,100.4 1212.4,98.6 1212.9,101.7 1213.4,101.9 1213.8,99.9 1214.3,99.8 1214.8,96.7 1215.3,97.2 1215.7,93.9 1216.3,92.2 1216.8,95.6 1217.3,94.3 1217.9,98.7 1218.4,96.8 1218.9,97.9 1219.5,98.2 1220.0,91.3 1220.5,93.0 1221.1,88.7 1221.6,90.3 1222.1,85.9 1222.6,88.1 1223.1,94.4 1223.6,94.3 1224.0,102.8 1224.5,104.3 1225.0,102.8 1225.5,104.0 1225.9,101.9 1226.4,103.6 1226.9,101.9 1227.4,100.6 1227.9,107.0 1228.3,103.7 1228.8,110.0 1229.3,106.8 1229.8,110.6 1230.3,109.0 1230.9,105.7 1231.4,108.1 1231.9,101.0 1232.5,101.9 1233.0,99.4 1233.5,94.3 1234.0,94.1 1234.6,89.1 1235.1,90.7 1235.6,95.7 1236.2,96.6 1236.7,100.5 1237.3,101.9 1237.7,102.5 1238.2,106.1 1238.7,107.7 1239.2,112.9 1239.7,112.2 1240.2,108.3 1240.7,111.4 1241.2,105.3 1241.8,107.6 1242.3,101.1 1242.8,101.9 1243.3,103.9 1243.8,100.8 1244.3,102.2 1244.8,99.1 1245.3,101.3 1245.8,98.1 1246.3,99.9 1246.8,97.9 1247.4,96.9 1247.9,102.8 1248.4,102.0 1248.9,105.7 1249.5,104.6 1250.0,107.5 1250.5,108.7 1251.0,103.8 1251.4,104.0 1251.9,99.9 1252.4,100.3 1252.9,98.9 1253.5,95.2 1254.0,97.8 1254.5,91.9 1255.1,92.4 1255.6,89.9 1256.1,90.7 1256.5,95.6 1257.0,95.7 1257.5,98.6 1258.0,100.3 1258.5,98.8 1259.0,99.0 1259.6,96.0 1260.1,96.8 1260.6,94.3 1261.2,93.9 1261.6,93.4 1262.1,90.8 1262.6,93.9 1263.1,89.0 1263.6,89.9 1264.1,89.9 1264.6,84.9 1265.2,85.7 1265.7,81.6 1266.2,83.2 1266.7,80.4 1267.2,79.5 1267.7,83.5 1268.2,81.1 1268.7,84.0 1269.2,83.2 1269.7,85.2 1270.2,83.8 1270.7,85.9 1271.3,89.9 1271.8,90.1 1272.3,94.7 1272.9,96.6 1273.4,103.0 1273.9,103.5 1274.4,100.7 1275.0,100.8 1275.5,95.7 1276.0,95.8 1276.6,90.1 1277.1,90.7 1277.6,93.8 1278.1,93.0 1278.5,97.9 1279.0,99.5 1279.5,101.9 1280.0,106.6 1280.6,105.2 1281.1,108.8 1281.6,109.8 1282.2,114.4 1282.7,115.4 1283.2,111.9 1283.7,112.8 1284.3,110.4 1284.8,112.3 1285.3,106.0 1285.9,106.7 1286.4,106.2 1286.9,103.9 1287.5,104.9 1288.0,101.0 1288.5,103.7 1289.1,101.1 1289.6,100.6 1290.1,107.2 1290.5,105.3 1291.0,110.7 1291.5,108.5 1292.0,114.6 1292.5,113.0 1293.0,116.2 1293.6,115.5 1294.1,108.4 1294.6,110.0 1295.2,104.2 1295.7,104.0 1296.2,98.7 1296.7,101.4 1297.2,106.2 1297.7,105.2 1298.1,110.9 1298.6,112.2 1299.1,108.8 1299.6,112.4 1300.1,109.0 1300.6,111.6 1301.1,106.3 1301.6,109.7 1302.1,106.3 1302.6,106.7 1303.1,107.0 1303.6,103.6 1304.1,106.0 1304.6,102.2 1305.1,103.3 1305.6,99.7 1306.1,101.5 1306.6,99.5 1307.1,99.7 1307.6,103.9 1308.1,100.4 1308.6,105.3 1309.1,103.7 1309.6,106.6 1310.1,106.3 1310.6,108.2 1311.0,109.6 1311.5,108.5 1312.0,112.7 1312.5,111.8 1313.0,113.0 1313.4,114.1 1313.9,109.1 1314.4,110.8 1314.9,104.6 1315.4,108.1 1315.8,103.4 1316.3,103.6 1316.8,98.4 1317.3,99.4 1317.7,97.9 1318.3,97.1 1318.8,98.1 1319.3,94.4 1319.8,97.7 1320.4,92.3 1320.9,95.3 1321.4,93.1 1321.9,93.6 1322.4,101.2 1322.9,101.6 1323.4,108.2 1323.9,108.5 1324.4,113.9 1324.9,116.2 1325.4,112.6 1325.9,113.4 1326.3,107.8 1326.8,110.5 1327.3,105.2 1327.8,105.0 1328.3,101.8 1328.7,102.0 1329.2,97.4 1329.7,97.1 1330.2,101.7 1330.6,100.7 1331.1,108.9 1331.6,107.8 1332.1,112.2 1332.6,112.7 1333.0,109.0 1333.5,112.9 1334.0,108.4 1334.5,110.1 1335.0,105.6 1335.4,107.7 1335.9,105.6 1336.4,108.5 1336.9,105.1 1337.3,102.1 1337.8,105.2 1338.3,102.8 1338.8,105.0 1339.3,101.9 1339.8,97.9 1340.3,100.2 1340.8,93.1 1341.4,96.4 1341.9,90.7 1342.4,89.9 1343.0,92.6 1343.5,93.6 1344.0,98.1 1344.6,97.5 1345.1,101.7 1345.6,103.5 1346.2,105.9 1346.7,111.1 1347.2,110.5 1347.8,116.1 1348.3,115.3 1348.8,121.0 1349.3,121.2 1349.9,117.7 1350.4,117.4 1350.9,112.4 1351.5,113.9 1352.0,111.4 1352.5,108.6 1353.1,109.6 1353.6,107.8 1354.1,110.1 1354.6,105.2 1355.1,107.8 1355.7,105.1 1356.1,106.5 1356.6,110.3 1357.1,109.4 1357.6,113.6 1358.1,113.0 1358.5,118.2 1359.0,115.9 1359.5,122.3 1360.0,122.6 1360.5,119.8 1360.9,119.7 1361.4,117.4 1361.9,118.3 1362.4,114.6 1362.8,113.5 1363.3,113.3 1363.7,111.8 1364.2,111.4 1364.7,111.8 1365.1,107.0 1365.6,110.0 1366.1,104.9 1366.6,106.3 1367.1,105.1 1367.6,111.1 1368.1,119.4 1368.6,123.4 1369.2,120.4 1369.7,121.2 1370.3,116.2 1370.8,115.6 1371.4,113.0 1371.9,112.5 1372.4,113.8 1373.0,111.3 1373.5,115.7 1374.0,113.4 1374.5,114.6 1375.1,113.2 1375.6,108.2 1376.1,106.8 1376.7,101.5 1377.2,103.0 1377.7,98.7 1378.3,98.0 1378.8,103.9 1379.3,102.9 1379.9,107.4 1380.4,108.5 1380.9,110.6 1381.4,111.7 1381.9,105.1 1382.4,106.7 1382.9,101.7 1383.4,105.0 1383.9,100.2 1384.4,101.2 1384.9,97.9 1385.4,95.7 1385.9,100.2 1386.3,96.7 1386.8,100.5 1387.3,100.3 1387.8,97.2 1388.4,98.3 1388.9,93.7 1389.4,93.2 1390.0,87.9 1390.5,88.3 1391.0,91.6 1391.5,89.9 1392.0,94.7 1392.5,95.4 1393.0,98.8 1393.5,99.2 1394.0,104.3 1394.5,103.5 1395.0,101.1 1395.5,101.9 1396.1,98.4 1396.6,98.6 1397.1,94.4 1397.7,93.9 1398.1,94.0 1398.6,91.6 1399.1,91.1 1399.6,87.3 1400.0,89.6 1400.5,87.5 1401.0,89.5 1401.5,93.3 1402.0,94.6 1402.5,98.7 1403.0,100.5 1403.5,105.1 1404.0,105.9 1404.5,104.1 1405.0,104.7 1405.5,101.5 1405.9,102.9 1406.4,101.9 1406.9,99.4 1407.4,100.8 1407.9,96.3 1408.3,96.2 1408.8,90.9 1409.3,91.5 1409.8,96.5 1410.4,96.5 1410.9,100.6 1411.5,100.3 1412.0,105.1 1412.5,107.9 1413.0,106.0 1413.4,111.0 1413.9,112.2 1414.4,107.3 1414.9,109.2 1415.4,104.9 1415.9,104.6 1416.5,101.1 1417.0,102.5 1417.6,106.6 1418.1,105.7 1418.7,108.2 1419.2,115.1 1419.7,115.4 1420.2,122.4 1420.8,125.8 1421.3,121.1 1421.8,119.5 1422.4,113.2 1422.9,112.3 1423.4,105.5 1423.9,101.9 1424.4,102.3 1424.9,98.4 1425.4,99.6 1425.9,95.7 1426.4,98.0 1426.9,94.1 1427.4,96.5 1427.9,93.9 1428.5,92.8 1429.0,94.5 1429.5,92.9 1430.1,93.3 1430.6,90.2 1431.1,92.3 1431.6,92.7 1432.1,89.4 1432.6,91.0 1433.0,88.6 1433.5,90.7 1434.0,89.1 1434.5,90.6 1435.1,95.7 1435.6,97.5 1436.2,101.5 1436.7,103.5 1437.2,103.5 1437.8,105.1 1438.3,103.5 1438.8,106.9 1439.4,105.7 1439.9,107.5 1440.4,108.8 1440.9,102.9 1441.5,106.3 1442.0,100.3 1442.5,101.8 1443.1,100.3 1443.5,102.1 1444.0,105.5 1444.5,106.0 1445.0,112.3 1445.5,113.0 1445.9,109.2 1446.4,108.4 1446.9,102.6 1447.4,103.5 1447.9,98.7 1448.3,99.3 1448.8,103.6 1449.3,101.5 1449.8,105.5 1450.2,105.1 1450.7,102.7 1451.2,101.7 1451.7,96.9 1452.2,99.7 1452.6,93.8 1453.1,93.9 1453.6,95.8 1454.1,97.4 1454.6,99.8 1455.1,100.6 1455.6,103.9 1456.1,103.8 1456.6,106.7 1457.1,105.5 1457.6,103.2 1458.1,104.6 1458.5,101.1 1459.0,100.3 1459.5,104.2 1460.0,101.9 1460.4,107.1 1460.9,105.9 1461.4,108.2 1461.9,111.1 1462.5,109.5 1463.0,114.0 1463.5,114.6 1464.1,118.6 1464.6,117.8 1465.1,113.7 1465.5,114.8 1466.0,112.0 1466.5,112.6 1467.0,106.5 1467.5,106.5 1467.9,103.7 1468.4,102.8 1468.9,98.4 1469.4,98.7 1469.8,97.4 1470.3,92.4 1470.8,95.2 1471.3,91.0 1471.8,91.3 1472.2,87.5 1472.8,90.6 1473.3,97.9 1473.9,97.6 1474.4,104.9 1474.9,108.2 1475.5,105.9 1476.0,106.6 1476.5,100.7 1477.1,102.4 1477.6,95.7 1478.1,95.5 1478.6,99.2 1479.1,96.4 1479.6,102.0 1480.1,100.6 1480.6,103.6 1481.1,103.1 1481.6,107.9 1482.1,108.2 1482.6,104.4 1483.2,106.1 1483.7,100.7 1484.2,100.8 1484.8,96.2 1485.3,93.9 1485.8,98.0 1486.4,95.9 1486.9,101.0 1487.4,100.9 1488.0,107.2 1488.5,106.7 1489.0,106.4 1489.5,111.2 1490.0,110.4 1490.5,112.8 1491.0,113.1 1491.5,116.8 1492.0,116.5 1492.5,118.6 1493.0,117.5 1493.4,114.2 1493.9,114.6 1494.4,108.8 1494.9,109.3 1495.3,106.0 1495.8,106.1 1496.3,101.4 1496.8,103.3 1497.3,98.7 1497.7,100.3 1498.2,104.6 1498.7,103.9 1499.2,109.3 1499.6,111.4 1500.2,111.1 1500.7,114.8 1501.2,112.7 1501.8,117.8 1502.3,115.3 1502.8,118.6 1503.4,118.1 1503.9,114.9 1504.4,117.5 1505.0,113.6 1505.5,116.1 1506.0,113.0 1506.5,110.2 1507.0,112.4 1507.5,110.7 1508.0,112.0 1508.5,110.0 1509.0,110.2 1509.5,108.8 1510.0,109.0 1510.5,113.6 1511.1,115.0 1511.6,121.0 1512.1,120.5 1512.6,117.1 1513.1,116.5 1513.6,112.5 1514.1,113.0 1514.6,109.8 1515.1,108.6 1515.6,106.7 1516.1,104.9 1516.5,105.9 1517.0,99.3 1517.5,99.9 1518.0,95.9 1518.5,98.9 1518.9,92.8 1519.4,92.9 1519.9,89.5 1520.4,89.1 1520.8,89.9 1521.3,87.8 1521.7,89.4 1522.2,87.5 1522.7,92.3 1523.2,99.7 1523.8,101.9 1524.3,101.6 1524.7,106.8 1525.2,104.0 1525.7,110.1 1526.2,109.8 1526.6,107.2 1527.1,106.7 1527.6,103.7 1528.1,102.3 1528.6,100.3 1529.1,96.8 1529.6,100.0 1530.2,95.5 1530.7,95.5 1531.2,91.8 1531.7,92.3 1532.3,94.7 1532.8,89.7 1533.3,92.8 1533.9,90.1 1534.4,94.6 1534.9,92.3 1535.4,93.0 1535.9,98.8 1536.4,100.1 1536.8,103.5 1537.3,104.4 1537.8,99.9 1538.3,100.5 1538.8,96.6 1539.2,97.8 1539.7,95.5 1540.2,93.3 1540.7,96.5 1541.1,95.8 1541.6,97.7 1542.1,94.5 1542.6,98.7 1543.1,94.6 1543.5,99.3 1544.0,94.3 1544.5,97.1 1545.0,99.1 1545.4,97.0 1545.9,99.4 1546.4,98.8 1546.9,100.3 1547.4,105.5 1547.9,107.2 1548.4,112.9 1548.9,114.6 1549.5,112.7 1550.0,113.0 1550.6,107.6 1551.1,109.1 1551.7,107.4 1552.2,107.2 1552.7,108.4 1553.2,106.5 1553.8,108.9 1554.3,106.8 1554.8,106.6 1555.4,107.1 1555.9,100.5 1556.4,103.3 1557.0,98.0 1557.5,98.1 1558.0,95.5 1558.6,92.4 1559.1,94.4 1559.6,90.5 1560.2,91.3 1560.7,89.1 1561.2,90.0 1561.7,95.2 1562.2,93.2 1562.6,100.1 1563.1,99.3 1563.6,101.9 1564.1,104.8 1564.7,104.9 1565.2,109.8 1565.7,109.4 1566.3,113.0 1566.8,114.6 1567.3,111.8 1567.8,110.5 1568.4,105.7 1568.9,107.2 1569.4,99.4 1570.0,99.5 1570.5,99.8 1571.0,92.5 1571.6,95.8 1572.1,89.2 1572.6,91.1 1573.2,86.7 1573.6,89.9 1574.1,95.3 1574.6,95.0 1575.1,100.8 1575.5,101.7 1576.0,106.6 1576.5,108.1 1577.0,102.8 1577.5,104.7 1578.0,100.8 1578.5,101.3 1579.0,96.6 1579.5,97.9 1580.0,99.2 1580.5,99.9 1581.0,103.6 1581.4,101.7 1581.9,104.2 1582.5,107.2 1583.0,107.8 1583.5,113.4 1584.1,113.5 1584.6,117.8 1585.1,116.3 1585.6,111.0 1586.1,111.4 1586.5,106.1 1587.0,104.8 1587.5,101.9 1588.0,100.1 1588.4,101.8 1588.9,96.5 1589.4,97.1 1589.9,95.5 1590.4,93.1 1590.9,96.2 1591.4,95.2 1591.9,97.0 1592.4,94.8 1592.9,96.9 1593.4,93.9 1593.9,95.5 1594.4,96.7 1594.9,94.9 1595.5,97.4 1596.0,96.2 1596.5,99.8 1597.1,98.7 1597.5,97.4 1598.0,97.7 1598.5,95.3 1599.0,95.7 1599.4,90.9 1599.9,92.3 1600.5,92.2 1601.0,87.1 1601.5,89.6 1602.1,85.6 1602.6,84.3 1603.1,90.6 1603.6,89.3 1604.1,95.1 1604.5,96.0 1605.0,101.9 1605.5,102.3 1606.1,100.1 1606.6,102.6 1607.1,97.6 1607.7,100.7 1608.2,97.9 1608.7,99.4 1609.2,103.9 1609.6,103.4 1610.1,106.2 1610.6,107.4 1611.1,105.4 1611.6,105.5 1612.1,102.8 1612.6,104.0 1613.1,101.6 1613.6,103.4 1614.1,99.3 1614.6,99.5 1615.0,101.5 1615.5,96.8 1616.0,100.5 1616.5,96.0 1617.0,99.6 1617.4,94.2 1617.9,96.6 1618.4,93.6 1618.9,96.1 1619.4,94.7 1619.8,93.5 1620.3,98.5 1620.8,95.2 1621.3,98.9 1621.7,99.5 1622.3,96.8 1622.8,98.3 1623.3,92.0 1623.8,93.1 1624.3,97.2 1624.8,97.1 1625.3,100.9 1625.8,101.0 1626.3,104.9 1626.8,103.1 1627.3,107.4 1627.8,107.0 1628.3,103.4 1628.7,107.2 1629.2,103.9 1629.7,104.4 1630.2,101.9 1630.7,104.8 1631.1,100.1 1631.6,101.3 1632.1,100.3 1632.6,101.8 1633.0,103.8 1633.5,102.8 1634.0,107.2 1634.5,108.2 1635.0,108.1 1635.4,111.9 1635.9,110.6 1636.4,115.0 1636.9,115.4 1637.4,113.0 1637.9,113.9 1638.5,107.9 1639.0,109.4 1639.5,103.2 1640.1,103.5 1640.6,104.0 1641.1,99.2 1641.6,98.1 1642.0,94.7 1642.5,94.4 1643.0,88.5 1643.5,91.1 1644.0,86.7 1644.6,87.0 1645.1,88.0 1645.6,85.6 1646.2,90.2 1646.7,87.6 1647.2,89.1 1647.7,92.6 1648.2,93.1 1648.7,98.1 1649.2,96.8 1649.7,102.5 1650.2,100.5 1650.7,104.7 1651.2,106.6 1651.7,105.1 1652.2,106.0 1652.7,102.3 1653.2,105.9 1653.7,103.5 1654.2,103.5 1654.7,101.4 1655.2,101.9 1655.7,103.7 1656.2,101.2 1656.7,104.4 1657.2,102.9 1657.7,104.4 1658.2,103.2 1658.7,106.3 1659.2,105.8 1659.6,104.5 1660.1,104.6 1660.6,99.3 1661.1,100.9 1661.6,99.5 1662.1,102.0 1662.6,107.2 1663.2,108.2 1663.7,103.7 1664.2,101.4 1664.7,95.5 1665.2,93.1 1665.8,101.5 1666.3,106.9 1666.8,116.2 1667.3,116.3 1667.8,110.8 1668.3,114.9 1668.8,110.6 1669.3,110.9 1669.8,105.8 1670.3,106.6 1670.8,106.8 1671.3,99.9 1671.8,101.6 1672.3,95.8 1672.8,96.3 1673.3,92.2 1673.8,90.7 1674.3,96.1 1674.9,94.6 1675.4,102.9 1675.9,103.5 1676.4,101.1 1676.9,103.5 1677.3,100.1 1677.8,103.9 1678.3,100.0 1678.8,102.8 1679.2,99.7 1679.7,101.8 1680.2,98.7 1680.7,99.5 1681.2,100.7 1681.7,100.6 1682.3,103.6 1682.8,100.9 1683.3,106.1 1683.9,105.8 1684.3,102.1 1684.8,101.1 1685.3,97.1 1685.8,96.0 1686.3,92.3 1686.8,97.2 1687.3,102.9 1687.8,108.2 1688.3,106.3 1688.8,110.5 1689.3,108.4 1689.8,111.7 1690.2,110.6" fill="none" stroke="#4455a6" stroke-width="3.6" stroke-linejoin="round" stroke-linecap="round"/>
<polyline points="1049.8,172.0 1050.3,169.2 1050.7,168.6 1051.2,166.1 1051.7,165.2 1052.2,162.4 1052.6,161.2 1053.1,163.8 1053.6,159.9 1054.1,163.8 1054.6,160.8 1055.0,158.6 1055.5,160.8 1056.0,155.2 1056.5,155.7 1057.0,153.7 1057.4,152.9 1058.0,157.0 1058.5,155.2 1059.1,161.5 1059.6,160.9 1060.1,165.6 1060.7,168.3 1061.2,166.1 1061.7,170.2 1062.3,170.1 1062.8,175.4 1063.3,174.4 1063.8,172.5 1064.3,172.9 1064.8,171.0 1065.2,170.4 1065.7,168.8 1066.2,166.1 1066.7,167.0 1067.2,162.5 1067.6,162.3 1068.1,159.2 1068.6,162.8 1069.1,169.2 1069.5,169.3 1070.0,177.6 1070.5,180.0 1071.0,179.8 1071.6,182.8 1072.1,178.5 1072.6,183.2 1073.2,181.7 1073.7,182.4 1074.2,182.9 1074.7,176.4 1075.3,178.1 1075.8,175.1 1076.3,174.2 1076.9,172.0 1077.4,169.1 1077.8,171.6 1078.3,165.9 1078.8,168.8 1079.3,164.8 1079.8,165.4 1080.3,168.1 1080.9,166.3 1081.4,171.4 1081.9,169.7 1082.5,172.0 1083.0,176.5 1083.5,176.4 1084.0,180.0 1084.6,176.6 1085.1,171.8 1085.7,169.6 1086.2,164.2 1086.8,162.4 1087.3,167.7 1087.8,169.8 1088.3,177.3 1088.8,180.0 1089.4,177.1 1089.9,177.0 1090.4,173.5 1090.9,174.1 1091.5,167.8 1092.0,167.2 1092.5,174.4 1093.0,176.0 1093.4,182.3 1093.9,183.0 1094.4,189.5 1094.9,189.6 1095.5,187.7 1096.0,187.6 1096.5,185.9 1097.1,187.7 1097.6,184.7 1098.1,182.1 1098.6,182.2 1099.1,176.4 1099.6,176.7 1100.1,171.1 1100.6,172.0 1101.1,166.2 1101.6,165.6 1102.1,169.7 1102.6,169.5 1103.2,174.9 1103.7,174.5 1104.2,179.6 1104.8,180.0 1105.3,176.0 1105.8,178.4 1106.4,173.5 1106.9,174.7 1107.4,167.9 1107.9,168.8 1108.4,169.1 1108.9,166.1 1109.4,167.4 1109.9,162.3 1110.3,164.0 1110.9,164.9 1111.4,165.1 1111.9,166.9 1112.5,164.3 1113.0,168.8 1113.5,167.2 1114.0,167.5 1114.5,172.5 1115.0,170.4 1115.4,174.4 1115.9,173.6 1116.4,171.1 1116.9,169.2 1117.4,166.5 1117.8,164.8 1118.3,162.4 1118.8,166.6 1119.4,175.1 1119.9,178.7 1120.4,187.4 1121.0,189.3 1121.5,195.9 1122.0,192.8 1122.5,188.4 1122.9,187.4 1123.4,179.3 1123.9,178.4 1124.4,176.7 1124.9,174.0 1125.5,174.2 1126.0,169.2 1126.5,170.5 1127.1,165.6 1127.5,167.1 1128.0,173.1 1128.5,173.3 1129.0,179.3 1129.5,180.0 1130.0,180.5 1130.5,184.6 1131.1,183.0 1131.6,187.7 1132.1,187.2 1132.6,191.1 1133.1,187.4 1133.6,181.5 1134.1,180.6 1134.6,173.2 1135.1,171.9 1135.6,166.2 1136.1,165.1 1136.6,160.0 1137.1,159.0 1137.6,165.7 1138.1,162.8 1138.6,166.6 1139.1,166.8 1139.6,169.7 1140.1,169.3 1140.6,172.0 1141.1,173.8 1141.6,173.8 1142.1,177.7 1142.6,175.0 1143.1,178.8 1143.6,176.4 1144.1,181.0 1144.6,181.6 1145.1,183.5 1145.7,189.2 1146.2,189.9 1146.7,198.3 1147.3,198.7 1147.8,203.1 1148.3,202.5 1148.8,195.4 1149.3,195.8 1149.8,191.4 1150.3,191.0 1150.8,184.4 1151.3,184.7 1151.8,181.6 1152.3,179.0 1152.7,182.0 1153.2,178.4 1153.7,180.6 1154.2,178.4 1154.7,170.7 1155.2,168.6 1155.7,160.4 1156.2,157.6 1156.8,161.5 1157.3,161.2 1157.9,168.7 1158.4,168.6 1158.9,172.0 1159.4,171.9 1159.9,164.1 1160.4,165.2 1160.9,161.7 1161.3,159.2 1161.9,159.8 1162.4,157.0 1162.9,160.1 1163.5,157.8 1164.0,161.0 1164.5,160.8 1165.0,161.5 1165.5,166.5 1166.0,168.5 1166.4,173.6 1166.9,174.4 1167.4,173.1 1167.9,173.3 1168.3,168.7 1168.8,172.2 1169.3,166.7 1169.8,170.9 1170.3,167.0 1170.7,166.8 1171.2,162.8 1171.7,164.0 1172.2,172.3 1172.6,176.7 1173.1,184.6 1173.6,188.9 1174.1,195.9 1174.6,195.2 1175.1,191.9 1175.7,190.4 1176.2,185.7 1176.7,187.5 1177.3,184.7 1177.8,180.5 1178.3,181.5 1178.8,178.0 1179.3,177.9 1179.8,174.6 1180.3,174.5 1180.8,170.3 1181.3,170.4 1181.7,173.0 1182.2,172.8 1182.7,178.5 1183.2,179.0 1183.6,181.6 1184.2,185.5 1184.7,186.0 1185.2,192.9 1185.8,192.3 1186.3,196.8 1186.8,199.1 1187.4,193.5 1187.9,195.7 1188.4,188.3 1189.0,188.2 1189.5,184.0 1190.0,181.6 1190.6,183.4 1191.1,183.5 1191.6,184.9 1192.1,184.4 1192.7,188.0 1193.2,187.9 1193.7,180.9 1194.3,178.1 1194.8,171.6 1195.3,168.1 1195.9,158.9 1196.4,155.3 1196.9,158.9 1197.4,157.9 1197.8,163.4 1198.3,160.8 1198.8,165.6 1199.3,165.1 1199.8,157.8 1200.4,156.9 1200.9,159.9 1201.4,159.7 1201.9,163.7 1202.4,161.7 1202.9,167.4 1203.4,167.1 1203.9,171.2 1204.4,172.0 1204.9,177.0 1205.4,185.6 1205.9,188.2 1206.5,195.4 1207.0,199.1 1207.5,193.3 1208.0,193.4 1208.5,187.8 1209.0,187.4 1209.5,182.5 1210.0,180.5 1210.5,176.4 1211.0,173.6 1211.4,175.0 1211.9,169.5 1212.4,173.3 1212.9,169.6 1213.4,168.8 1213.9,167.0 1214.4,160.5 1215.0,159.5 1215.5,152.4 1216.0,151.1 1216.5,146.5 1217.0,147.3 1217.5,153.5 1218.0,154.9 1218.5,162.9 1218.9,164.0 1219.5,165.3 1220.0,171.0 1220.5,172.0 1221.1,163.9 1221.6,162.0 1222.1,156.1 1222.7,155.6 1223.2,160.8 1223.7,159.0 1224.2,163.4 1224.8,161.6 1225.3,164.0 1225.8,166.6 1226.4,164.4 1226.9,169.1 1227.4,167.4 1228.0,171.1 1228.5,170.4 1229.0,167.9 1229.6,169.2 1230.1,165.9 1230.6,167.4 1231.2,163.2 1231.7,164.8 1232.2,164.2 1232.7,159.0 1233.2,160.5 1233.7,155.8 1234.2,155.3 1234.7,159.7 1235.2,162.6 1235.7,169.4 1236.3,169.2 1236.8,176.0 1237.3,178.4 1237.8,175.8 1238.3,178.5 1238.9,174.5 1239.4,174.6 1239.9,170.8 1240.5,172.0 1240.9,173.7 1241.4,171.0 1241.9,175.5 1242.4,171.1 1242.9,176.4 1243.4,174.3 1243.9,175.8 1244.4,175.2 1244.9,174.3 1245.4,180.5 1245.9,179.3 1246.4,181.6 1246.9,181.9 1247.4,184.4 1247.9,184.6 1248.4,187.1 1248.9,187.0 1249.4,180.9 1249.9,181.2 1250.3,177.3 1250.8,175.2 1251.3,175.6 1251.8,171.0 1252.3,175.0 1252.8,171.1 1253.3,173.0 1253.8,168.8 1254.3,172.4 1254.8,169.6 1255.3,171.6 1255.7,176.3 1256.2,175.7 1256.7,180.6 1257.2,181.6 1257.7,178.0 1258.1,176.9 1258.6,172.0 1259.1,171.1 1259.6,167.2 1260.1,169.4 1260.5,172.2 1261.0,172.3 1261.5,176.3 1262.0,178.4 1262.5,173.1 1263.0,170.8 1263.6,163.3 1264.1,160.2 1264.6,153.8 1265.2,149.7 1265.6,150.4 1266.1,146.2 1266.6,146.7 1267.1,140.9 1267.5,142.3 1268.0,140.1 1268.6,140.2 1269.1,144.9 1269.6,142.2 1270.2,146.3 1270.7,146.5 1271.2,149.2 1271.7,153.5 1272.2,154.1 1272.6,160.0 1273.1,160.8 1273.6,159.4 1274.1,160.8 1274.6,157.2 1275.1,160.7 1275.6,156.9 1276.1,158.3 1276.6,155.0 1277.1,156.1 1277.6,159.7 1278.2,157.6 1278.7,162.0 1279.2,158.3 1279.8,162.4 1280.3,162.4 1280.8,163.0 1281.4,168.1 1281.9,169.4 1282.4,174.1 1282.9,173.3 1283.5,176.8 1284.0,180.2 1284.5,179.4 1285.1,185.3 1285.6,182.6 1286.1,186.8 1286.7,188.7 1287.2,183.2 1287.7,182.3 1288.3,175.9 1288.8,175.7 1289.3,168.3 1289.9,165.6 1290.3,170.1 1290.8,169.5 1291.3,176.4 1291.8,177.0 1292.2,181.6 1292.8,184.7 1293.3,182.7 1293.8,188.6 1294.4,186.4 1294.9,191.3 1295.4,191.9 1296.0,187.3 1296.5,184.8 1297.0,176.8 1297.6,176.0 1298.1,167.2 1298.6,164.8 1299.1,167.4 1299.7,168.7 1300.2,171.8 1300.7,171.6 1301.3,176.4 1301.8,178.4 1302.3,180.3 1302.8,184.9 1303.3,183.4 1303.8,187.3 1304.3,187.4 1304.8,193.5 1305.3,192.4 1305.8,195.9 1306.3,194.2 1306.9,190.2 1307.4,191.5 1307.9,186.8 1308.4,189.4 1309.0,184.7 1309.5,184.8 1310.0,191.8 1310.5,191.2 1311.0,194.9 1311.5,194.8 1312.0,198.6 1312.4,198.1 1312.9,203.9 1313.4,205.5 1313.9,201.7 1314.4,200.3 1314.9,195.7 1315.4,195.8 1315.8,188.9 1316.3,188.8 1316.8,183.2 1317.3,181.5 1317.7,178.4 1318.2,176.1 1318.7,178.0 1319.2,171.9 1319.7,175.2 1320.2,170.7 1320.7,170.6 1321.2,168.5 1321.7,167.2 1322.2,171.3 1322.7,171.3 1323.2,176.2 1323.6,176.0 1324.1,180.0 1324.6,179.7 1325.2,175.2 1325.7,176.6 1326.2,172.0 1326.8,173.2 1327.3,168.8 1327.8,166.7 1328.4,167.9 1328.9,166.3 1329.4,168.2 1330.0,165.0 1330.5,165.6 1331.0,171.3 1331.6,172.9 1332.1,178.7 1332.6,179.9 1333.1,187.0 1333.7,190.3 1334.2,184.5 1334.7,185.0 1335.2,177.3 1335.7,176.5 1336.2,168.8 1336.7,168.9 1337.2,161.4 1337.7,160.0 1338.2,160.9 1338.7,160.2 1339.2,163.9 1339.7,162.7 1340.2,165.9 1340.6,164.0 1341.1,166.6 1341.6,165.6 1342.1,166.5 1342.6,171.0 1343.1,168.2 1343.6,173.4 1344.1,171.2 1344.6,175.9 1345.1,173.5 1345.6,176.8 1346.2,179.9 1346.7,180.7 1347.2,185.9 1347.8,185.4 1348.3,190.6 1348.8,190.3 1349.3,188.0 1349.9,187.1 1350.4,184.9 1350.9,185.6 1351.5,179.0 1352.0,180.0 1352.5,181.1 1353.0,178.1 1353.5,180.7 1354.0,177.4 1354.5,181.9 1355.0,179.5 1355.5,180.1 1356.0,180.0 1356.5,178.3 1357.1,180.6 1357.6,178.4 1358.1,181.8 1358.6,180.6 1359.2,181.6 1359.7,180.0 1360.2,174.3 1360.8,173.6 1361.3,168.4 1361.8,168.2 1362.4,162.4 1362.8,160.9 1363.3,163.6 1363.7,160.2 1364.2,160.0 1364.7,163.7 1365.1,160.2 1365.6,165.4 1366.1,165.7 1366.6,167.2 1367.1,174.1 1367.6,177.1 1368.2,184.7 1368.7,188.6 1369.2,189.6 1369.8,194.6 1370.3,196.2 1370.8,202.7 1371.4,203.9 1371.9,201.3 1372.4,203.1 1373.0,199.6 1373.5,200.9 1374.0,196.9 1374.5,195.9 1375.0,197.2 1375.5,190.6 1376.0,194.7 1376.5,189.3 1376.9,189.5 1377.4,191.3 1377.9,190.5 1378.4,194.5 1378.8,192.0 1379.3,194.3 1379.9,192.7 1380.4,185.5 1380.9,181.6 1381.4,184.3 1381.9,182.0 1382.4,187.5 1382.8,185.8 1383.3,188.7 1383.8,180.2 1384.4,170.8 1384.9,162.4 1385.4,164.5 1386.0,162.6 1386.5,168.8 1387.0,167.1 1387.6,171.7 1388.1,170.4 1388.6,170.7 1389.1,172.9 1389.6,168.9 1390.1,173.0 1390.6,169.7 1391.1,174.6 1391.6,173.0 1392.1,173.6 1392.6,177.7 1393.2,178.7 1393.7,183.8 1394.2,184.3 1394.8,189.5 1395.3,185.6 1395.8,178.6 1396.3,177.2 1396.9,172.0 1397.4,173.4 1397.9,176.7 1398.5,176.5 1399.0,179.9 1399.5,177.8 1400.0,181.6 1400.5,181.2 1401.0,176.3 1401.5,175.7 1402.0,172.1 1402.5,171.9 1403.0,167.8 1403.5,168.0 1404.0,165.6 1404.6,164.0 1405.1,166.6 1405.6,164.6 1406.2,167.5 1406.7,165.2 1407.2,165.6 1407.7,164.3 1408.2,159.5 1408.6,161.3 1409.1,156.2 1409.6,156.9 1410.1,160.2 1410.7,157.4 1411.2,160.1 1411.7,160.3 1412.3,164.0 1412.8,162.4 1413.3,163.7 1413.9,167.0 1414.4,165.7 1414.9,169.1 1415.4,169.1 1416.0,172.0 1416.5,171.8 1416.9,169.2 1417.4,171.5 1417.9,168.4 1418.4,168.8 1418.8,174.9 1419.3,178.8 1419.8,186.1 1420.3,190.8 1420.8,196.7 1421.3,195.4 1421.8,190.3 1422.4,192.1 1422.9,186.2 1423.4,186.8 1423.9,184.7 1424.4,179.5 1424.9,180.9 1425.4,174.8 1425.9,176.0 1426.4,169.9 1426.9,169.8 1427.4,164.5 1427.9,164.0 1428.5,162.9 1429.0,160.1 1429.5,159.3 1430.1,156.5 1430.6,157.5 1431.1,154.5 1431.6,152.4 1432.1,154.4 1432.6,150.4 1433.0,151.0 1433.5,148.1 1434.0,151.3 1434.5,157.4 1434.9,157.4 1435.4,165.4 1435.9,167.2 1436.4,167.6 1436.9,169.1 1437.4,167.3 1437.9,172.4 1438.4,170.1 1438.9,172.5 1439.4,169.5 1439.9,172.0 1440.4,173.9 1440.9,170.2 1441.5,173.1 1442.0,169.1 1442.5,172.6 1443.1,169.6 1443.5,172.6 1444.0,178.3 1444.5,177.5 1445.0,182.9 1445.5,184.7 1446.0,181.9 1446.5,180.2 1447.0,174.9 1447.5,176.2 1448.0,171.3 1448.5,170.1 1449.0,166.1 1449.5,164.4 1450.0,160.7 1450.5,159.6 1451.0,156.1 1451.5,155.3 1452.0,162.8 1452.5,159.8 1453.0,165.4 1453.5,164.6 1454.0,170.2 1454.5,167.5 1455.0,172.0 1455.5,172.0 1456.0,166.0 1456.5,166.3 1457.0,161.9 1457.5,163.9 1458.0,157.2 1458.5,157.6 1459.0,155.3 1459.5,156.9 1460.0,163.6 1460.4,165.8 1460.9,172.6 1461.4,173.6 1461.9,173.3 1462.4,178.9 1462.8,178.0 1463.3,182.3 1463.8,178.9 1464.3,183.1 1464.8,184.2 1465.3,178.2 1465.8,181.2 1466.3,175.2 1466.8,177.6 1467.3,173.3 1467.8,175.4 1468.3,169.5 1468.9,172.7 1469.4,168.8 1469.9,166.8 1470.4,169.1 1470.9,163.7 1471.4,166.7 1471.9,162.5 1472.4,164.3 1472.9,158.2 1473.4,159.2 1473.9,160.5 1474.4,158.0 1474.9,161.5 1475.5,160.8 1476.0,163.2 1476.5,162.4 1477.0,162.8 1477.5,165.8 1478.0,162.9 1478.5,168.3 1479.0,165.4 1479.5,169.5 1480.0,167.2 1480.5,170.4 1481.0,172.0 1481.5,167.3 1482.0,171.2 1482.5,165.7 1483.0,168.5 1483.5,166.6 1484.0,168.0 1484.5,165.6 1485.0,164.9 1485.5,169.8 1485.9,168.7 1486.4,174.3 1486.9,173.6 1487.4,174.6 1488.0,180.0 1488.5,181.8 1489.0,186.4 1489.6,189.2 1490.1,192.7 1490.6,192.6 1491.1,186.8 1491.7,187.2 1492.2,181.9 1492.7,181.7 1493.3,178.4 1493.7,176.7 1494.2,177.1 1494.7,172.7 1495.2,175.6 1495.7,172.0 1496.1,171.9 1496.6,169.8 1497.1,171.4 1497.6,167.1 1498.1,167.2 1498.6,170.9 1499.1,168.7 1499.6,173.1 1500.2,172.7 1500.7,176.6 1501.2,178.4 1501.7,173.0 1502.2,172.7 1502.7,168.4 1503.2,168.8 1503.7,162.0 1504.2,160.6 1504.7,156.9 1505.3,159.3 1505.8,168.5 1506.3,169.3 1506.8,176.8 1507.3,176.0 1507.8,171.5 1508.3,173.7 1508.7,167.7 1509.2,167.2 1509.7,170.8 1510.2,168.3 1510.6,171.9 1511.1,169.9 1511.6,172.7 1512.1,172.0 1512.6,173.3 1513.0,170.9 1513.5,175.7 1514.0,175.2 1514.5,171.6 1515.1,173.2 1515.6,170.2 1516.1,170.1 1516.6,167.0 1517.2,167.2 1517.7,169.4 1518.2,165.2 1518.8,167.5 1519.3,163.5 1519.8,168.4 1520.4,165.6 1520.9,162.9 1521.4,164.2 1522.0,161.4 1522.5,162.4 1523.0,166.3 1523.5,165.0 1523.9,171.4 1524.4,171.2 1524.9,177.4 1525.4,178.3 1525.9,177.5 1526.4,180.2 1526.9,177.0 1527.4,181.7 1527.9,177.9 1528.4,180.5 1528.9,177.0 1529.4,179.9 1529.9,177.0 1530.4,171.5 1530.9,172.7 1531.5,166.1 1532.0,165.9 1532.5,161.6 1533.1,160.8 1533.6,166.7 1534.1,163.5 1534.7,169.0 1535.2,168.1 1535.7,169.6 1536.2,168.2 1536.7,164.6 1537.2,165.4 1537.7,157.9 1538.2,158.5 1538.7,154.2 1539.2,155.1 1539.7,151.2 1540.2,154.3 1540.7,158.7 1541.1,158.7 1541.6,165.8 1542.1,167.2 1542.6,166.6 1543.2,169.8 1543.7,167.1 1544.2,169.8 1544.8,167.3 1545.3,168.8 1545.8,173.4 1546.3,170.7 1546.9,176.6 1547.4,174.3 1547.9,179.1 1548.5,179.9 1549.0,176.1 1549.5,179.8 1550.1,174.8 1550.6,176.4 1551.1,174.1 1551.7,173.5 1552.1,176.7 1552.6,174.4 1553.1,180.5 1553.6,178.9 1554.0,181.5 1554.5,179.2 1555.0,174.7 1555.5,175.9 1556.0,170.3 1556.5,170.1 1557.0,164.9 1557.5,163.6 1558.0,160.0 1558.6,161.0 1559.1,163.2 1559.6,162.5 1560.1,167.5 1560.7,163.3 1561.2,167.2 1561.8,171.0 1562.3,173.0 1562.8,179.8 1563.4,180.0 1563.9,183.9 1564.4,183.8 1565.0,180.6 1565.5,181.1 1566.0,179.1 1566.5,179.9 1567.1,176.7 1567.6,176.7 1568.1,179.8 1568.6,176.8 1569.1,178.5 1569.6,175.8 1570.1,180.0 1570.6,176.8 1571.1,181.3 1571.6,179.9 1572.1,177.5 1572.6,180.4 1573.1,178.9 1573.6,181.2 1574.1,177.6 1574.6,180.3 1575.0,176.6 1575.5,178.3 1576.1,179.0 1576.6,174.6 1577.1,175.0 1577.7,169.9 1578.2,172.5 1578.7,169.6 1579.3,170.7 1579.8,175.3 1580.3,174.8 1580.9,179.7 1581.4,179.4 1581.9,181.5 1582.4,185.7 1582.9,183.7 1583.4,188.2 1583.8,186.5 1584.3,191.1 1584.8,192.9 1585.3,192.6 1585.7,194.6 1586.2,194.0 1586.7,196.6 1587.2,196.8 1587.8,190.8 1588.3,191.8 1588.8,186.4 1589.4,187.0 1589.9,184.7 1590.4,182.8 1590.9,184.4 1591.5,178.8 1592.0,182.2 1592.5,177.4 1593.1,178.3 1593.6,182.0 1594.1,180.2 1594.6,185.4 1595.1,182.2 1595.6,186.7 1596.1,186.2 1596.6,191.0 1597.1,190.3 1597.5,186.7 1598.0,185.7 1598.5,180.2 1599.0,181.6 1599.4,176.1 1599.9,176.8 1600.4,169.9 1600.9,170.2 1601.4,166.4 1601.8,164.8 1602.4,165.6 1602.9,164.9 1603.4,168.2 1604.0,165.0 1604.5,170.0 1605.0,168.8 1605.5,168.2 1606.1,172.0 1606.6,170.3 1607.1,173.8 1607.7,171.7 1608.2,175.1 1608.7,178.6 1609.2,175.3 1609.6,179.4 1610.1,178.3 1610.6,181.5 1611.1,182.3 1611.5,177.6 1612.0,180.2 1612.5,173.9 1613.0,175.1 1613.5,178.5 1613.9,175.4 1614.4,180.8 1614.9,177.8 1615.4,181.5 1615.9,178.2 1616.4,172.1 1617.0,172.3 1617.5,164.9 1618.0,163.7 1618.6,159.2 1619.1,159.8 1619.5,162.5 1620.0,159.3 1620.5,163.2 1621.0,162.6 1621.5,164.6 1622.0,164.5 1622.5,165.6 1623.0,166.5 1623.5,160.9 1624.0,165.0 1624.4,160.7 1624.9,160.8 1625.4,165.1 1625.9,165.4 1626.4,170.3 1626.9,169.4 1627.4,172.7 1627.9,173.4 1628.4,177.9 1628.9,179.9 1629.4,178.8 1629.9,179.4 1630.3,177.7 1630.8,180.2 1631.3,176.1 1631.8,178.1 1632.3,175.4 1632.7,177.7 1633.2,176.4 1633.7,176.7 1634.2,176.1 1634.7,171.0 1635.3,170.5 1635.8,165.6 1636.3,165.4 1636.9,162.4 1637.4,161.8 1637.9,166.2 1638.5,164.8 1639.0,171.0 1639.5,168.8 1640.1,171.9 1640.5,170.6 1641.0,166.9 1641.5,167.7 1642.0,164.8 1642.4,166.0 1642.9,163.2 1643.4,163.7 1643.9,158.4 1644.4,160.7 1644.8,157.6 1645.4,158.3 1645.9,162.8 1646.4,161.5 1647.0,165.7 1647.5,164.5 1648.0,168.8 1648.5,171.9 1649.0,167.1 1649.5,172.4 1649.9,169.1 1650.4,170.4 1650.9,176.0 1651.4,175.9 1651.8,180.3 1652.3,181.4 1652.8,184.7 1653.3,183.8 1653.9,178.5 1654.4,180.3 1654.9,174.9 1655.5,175.0 1656.0,171.9 1656.5,172.7 1656.9,175.6 1657.4,175.0 1657.9,177.6 1658.4,176.3 1658.9,181.0 1659.3,179.6 1659.8,182.7 1660.3,181.4 1660.8,184.7 1661.3,182.6 1661.8,178.8 1662.3,178.5 1662.8,172.4 1663.3,174.5 1663.8,167.1 1664.2,169.2 1664.7,164.0 1665.2,165.7 1665.7,174.6 1666.2,174.9 1666.7,181.4 1667.1,185.5 1667.7,184.0 1668.2,183.7 1668.7,180.3 1669.3,183.8 1669.8,179.1 1670.3,179.9 1670.9,178.8 1671.4,175.2 1671.9,174.8 1672.4,170.7 1673.0,173.4 1673.5,168.8 1674.0,166.4 1674.5,165.9 1675.0,163.8 1675.5,163.8 1676.0,158.8 1676.5,162.1 1677.0,157.0 1677.5,156.8 1678.0,157.8 1678.5,157.9 1679.0,159.3 1679.5,157.4 1680.0,161.6 1680.5,158.2 1681.0,164.2 1681.5,162.4 1681.9,159.6 1682.4,162.6 1682.9,158.4 1683.4,160.5 1683.9,159.3 1684.3,160.6 1684.8,157.1 1685.3,158.5 1685.8,156.7 1686.3,156.8 1686.7,157.9 1687.2,156.3 1687.7,161.8 1688.2,158.1 1688.7,164.5 1689.2,161.6 1689.7,165.8 1690.2,164.8" fill="none" stroke="#4455a6" stroke-width="3.6" stroke-linejoin="round" stroke-linecap="round"/>
<polyline points="1054.6,313.0 1055.0,310.7 1055.5,312.8 1056.0,306.9 1056.4,308.4 1056.9,306.8 1057.4,305.6 1057.9,307.0 1058.3,305.6 1058.8,309.1 1059.3,308.9 1059.8,309.7 1060.3,310.9 1060.8,305.2 1061.3,307.6 1061.8,305.0 1062.3,303.9 1062.9,309.7 1063.4,309.0 1063.9,313.8 1064.4,312.1 1064.9,309.0 1065.4,309.7 1065.9,303.4 1066.4,303.9 1066.9,307.1 1067.4,305.8 1067.9,310.0 1068.4,310.5 1068.9,313.0 1069.4,320.2 1070.0,321.3 1070.5,327.0 1071.0,324.5 1071.5,319.8 1072.0,319.0 1072.5,315.3 1073.0,313.0 1073.5,316.3 1074.0,315.3 1074.5,320.7 1075.0,318.9 1075.5,322.9 1076.0,324.8 1076.5,324.0 1077.0,326.9 1077.5,325.4 1078.0,326.2 1078.4,324.9 1078.9,319.8 1079.4,320.2 1079.9,313.6 1080.4,313.0 1080.9,312.0 1081.4,307.9 1081.9,310.0 1082.4,305.1 1082.9,304.8 1083.4,305.4 1083.8,302.7 1084.3,307.2 1084.8,305.5 1085.3,306.6 1085.7,303.4 1086.2,306.4 1086.7,309.7 1087.2,310.7 1087.7,316.7 1088.3,314.8 1088.8,321.6 1089.3,320.4 1089.8,325.3 1090.3,327.8 1090.8,324.2 1091.3,323.7 1091.7,315.4 1092.2,314.3 1092.7,310.6 1093.1,308.0 1093.6,303.9 1094.1,302.5 1094.5,306.9 1095.0,305.6 1095.5,311.3 1096.0,308.0 1096.4,313.6 1096.9,312.2 1097.4,310.0 1097.9,309.7 1098.4,307.7 1098.9,308.4 1099.4,304.8 1099.9,305.5 1100.4,309.5 1100.9,305.8 1101.4,309.3 1101.8,309.7 1102.3,306.2 1102.8,307.6 1103.3,304.4 1103.8,304.9 1104.3,301.1 1104.8,304.5 1105.3,298.2 1105.8,299.5 1106.3,298.2 1106.8,299.9 1107.4,308.0 1107.9,308.2 1108.4,314.7 1109.0,318.5 1109.5,317.9 1110.1,322.1 1110.6,321.6 1111.1,315.6 1111.6,315.9 1112.1,313.4 1112.6,311.4 1113.1,311.4 1113.5,307.5 1114.0,307.9 1114.5,305.3 1115.0,305.9 1115.5,302.3 1116.0,305.1 1116.5,310.4 1116.9,308.7 1117.4,315.1 1117.9,316.4 1118.3,319.6 1118.8,319.3 1119.3,314.7 1119.8,314.4 1120.3,310.7 1120.8,308.9 1121.3,312.6 1121.8,309.3 1122.3,312.8 1122.8,312.6 1123.3,313.8 1123.8,315.9 1124.3,311.5 1124.8,316.2 1125.3,313.6 1125.8,314.9 1126.4,313.0 1126.9,316.0 1127.4,313.8 1127.9,315.9 1128.3,320.5 1128.8,318.5 1129.3,325.9 1129.7,326.2 1130.2,328.9 1130.7,331.1 1131.2,327.5 1131.7,326.5 1132.2,319.6 1132.7,319.4 1133.2,314.7 1133.6,316.0 1134.1,321.1 1134.6,320.9 1135.1,327.0 1135.6,327.8 1136.1,325.1 1136.7,329.5 1137.2,325.0 1137.7,329.6 1138.2,324.5 1138.7,328.6 1139.2,326.3 1139.7,326.2 1140.2,326.1 1140.7,319.8 1141.2,321.4 1141.6,315.7 1142.1,316.7 1142.6,311.5 1143.0,312.2 1143.5,315.6 1144.0,314.5 1144.5,319.3 1145.0,319.9 1145.5,322.9 1146.1,321.7 1146.6,317.6 1147.2,316.3 1147.7,320.4 1148.1,322.6 1148.6,330.4 1149.1,329.6 1149.6,335.3 1150.1,334.2 1150.6,325.8 1151.0,326.7 1151.5,317.9 1152.0,319.1 1152.5,312.6 1152.9,309.7 1153.4,310.3 1154.0,308.4 1154.5,309.5 1155.0,308.7 1155.5,311.7 1156.0,306.5 1156.5,309.9 1157.0,308.9 1157.5,310.5 1158.0,318.6 1158.5,317.8 1159.0,326.3 1159.5,327.8 1160.0,323.5 1160.5,322.5 1160.9,317.1 1161.4,317.4 1161.9,312.0 1162.3,311.9 1162.8,308.1 1163.3,304.2 1163.8,306.1 1164.2,300.6 1164.7,300.1 1165.2,294.5 1165.6,295.5 1166.1,291.6 1166.6,293.1 1167.0,301.0 1167.5,301.4 1168.0,310.0 1168.5,309.5 1168.9,316.6 1169.4,320.4 1169.9,318.0 1170.4,317.5 1170.9,312.3 1171.5,313.0 1172.0,310.4 1172.5,311.3 1173.0,304.7 1173.5,305.6 1174.0,307.7 1174.5,307.7 1174.9,312.5 1175.4,310.3 1175.9,315.9 1176.3,313.4 1176.8,317.1 1177.3,316.4 1177.8,313.5 1178.4,312.9 1178.9,309.4 1179.4,310.5 1179.9,307.8 1180.4,309.7 1180.9,305.6 1181.4,306.6 1181.9,312.9 1182.4,312.2 1182.9,318.5 1183.4,319.6 1183.9,316.1 1184.4,317.4 1185.0,314.8 1185.5,313.6 1186.0,311.8 1186.5,311.3 1187.0,308.4 1187.5,307.2 1188.1,312.8 1188.6,316.3 1189.2,322.9 1189.7,325.8 1190.2,321.4 1190.7,324.3 1191.2,321.6 1191.7,324.4 1192.3,323.9 1192.8,325.2 1193.3,324.5 1193.8,321.3 1194.3,322.4 1194.8,317.1 1195.3,318.3 1195.8,314.0 1196.3,314.8 1196.8,309.2 1197.2,310.4 1197.7,305.9 1198.2,303.9 1198.7,308.2 1199.2,307.1 1199.7,312.0 1200.2,309.3 1200.7,315.3 1201.2,314.5 1201.7,317.2 1202.2,318.6 1202.7,323.5 1203.2,322.9 1203.7,320.5 1204.2,320.9 1204.7,315.5 1205.3,317.1 1205.8,312.8 1206.3,311.4 1206.8,312.9 1207.3,313.4 1207.8,317.6 1208.3,314.9 1208.8,317.1 1209.3,316.5 1209.8,310.6 1210.2,310.3 1210.7,307.1 1211.2,304.8 1211.7,303.5 1212.2,299.7 1212.7,301.2 1213.2,296.8 1213.7,298.2 1214.2,299.0 1214.7,295.8 1215.2,298.1 1215.7,295.3 1216.2,297.4 1216.7,300.5 1217.2,301.3 1217.7,306.2 1218.2,306.9 1218.7,309.7 1219.1,312.6 1219.6,312.0 1220.1,317.2 1220.5,317.6 1221.0,323.0 1221.5,322.5 1221.9,325.4 1222.4,325.1 1222.9,323.1 1223.4,324.0 1223.8,321.1 1224.3,323.0 1224.8,319.1 1225.2,319.6 1225.7,323.7 1226.2,322.8 1226.7,326.4 1227.2,323.9 1227.7,327.8 1228.2,324.5 1228.7,319.8 1229.2,317.1 1229.7,311.6 1230.2,309.2 1230.7,303.9 1231.1,304.3 1231.6,308.9 1232.1,310.6 1232.5,314.6 1233.0,315.1 1233.5,318.0 1233.9,322.4 1234.4,324.4 1234.9,329.8 1235.4,333.1 1235.8,338.2 1236.3,341.0 1236.8,335.6 1237.3,335.4 1237.8,327.1 1238.3,324.7 1238.8,319.8 1239.2,316.3 1239.7,318.2 1240.2,314.4 1240.7,318.2 1241.2,313.0 1241.7,315.5 1242.3,321.8 1242.8,323.0 1243.3,329.9 1243.9,331.1 1244.3,325.5 1244.8,323.6 1245.2,318.3 1245.7,317.1 1246.2,310.5 1246.7,309.3 1247.2,309.4 1247.7,307.7 1248.1,310.4 1248.6,305.8 1249.1,306.4 1249.7,307.0 1250.2,303.3 1250.7,303.4 1251.3,300.7 1251.7,301.7 1252.2,305.1 1252.7,304.6 1253.1,309.4 1253.6,309.9 1254.1,312.2 1254.6,314.1 1255.1,309.2 1255.6,310.2 1256.1,308.9 1256.6,308.1 1257.0,309.4 1257.5,305.6 1258.0,306.7 1258.5,304.8 1259.0,305.6 1259.4,319.6 1259.8,329.5 1260.3,327.3 1260.8,328.7 1261.3,326.0 1261.7,328.4 1262.2,324.1 1262.7,325.7 1263.1,324.5 1263.6,321.1 1264.1,324.8 1264.6,318.9 1265.0,322.2 1265.5,317.6 1266.0,320.0 1266.4,316.3 1266.9,317.9 1267.4,321.2 1267.9,321.1 1268.4,327.4 1268.9,327.0 1269.4,324.2 1269.9,322.4 1270.5,319.1 1271.0,317.9 1271.5,313.7 1272.0,312.0 1272.5,308.9 1273.1,308.2 1273.6,313.4 1274.1,310.6 1274.7,314.7 1275.1,317.7 1275.6,316.6 1276.1,320.5 1276.5,319.7 1277.0,324.9 1277.5,326.2 1278.0,322.3 1278.4,322.5 1278.9,315.8 1279.4,317.3 1279.9,310.6 1280.3,312.6 1280.8,307.6 1281.3,308.0 1281.8,303.1 1282.2,303.1 1282.7,307.0 1283.2,303.5 1283.6,306.0 1284.1,303.2 1284.6,306.4 1285.1,305.3 1285.6,301.2 1286.2,301.2 1286.7,298.2 1287.2,303.3 1287.7,312.3 1288.2,318.1 1288.7,326.2 1289.2,324.8 1289.6,320.1 1290.1,320.5 1290.6,317.0 1291.0,317.5 1291.5,313.6 1292.0,313.0 1292.4,314.8 1292.9,311.5 1293.4,314.1 1293.9,313.3 1294.3,314.5 1294.8,311.7 1295.3,314.7 1295.8,317.1 1296.3,318.2 1296.8,322.1 1297.2,320.9 1297.7,324.5 1298.2,327.7 1298.7,325.8 1299.2,327.3 1299.6,326.9 1300.1,329.7 1300.6,327.5 1301.0,329.5 1301.5,327.0 1302.0,319.8 1302.5,320.5 1303.0,312.6 1303.5,311.4 1304.0,313.1 1304.5,308.7 1305.0,311.1 1305.5,306.4 1306.0,306.7 1306.5,305.6 1307.0,305.1 1307.5,310.0 1308.0,311.7 1308.5,313.8 1308.9,313.6 1309.4,310.9 1309.9,313.4 1310.3,307.2 1310.8,309.7 1311.3,306.0 1311.7,306.4 1312.3,306.1 1312.8,298.8 1313.4,300.2 1313.9,295.7 1314.4,296.9 1314.8,301.3 1315.3,302.9 1315.8,308.0 1316.2,307.1 1316.7,311.4 1317.2,316.1 1317.7,313.8 1318.2,321.5 1318.8,320.7 1319.3,323.9 1319.8,323.7 1320.3,328.7 1320.8,327.8 1321.3,323.2 1321.8,323.2 1322.3,318.1 1322.8,317.0 1323.3,313.8 1323.8,312.2 1324.2,314.1 1324.7,310.2 1325.2,311.7 1325.6,308.8 1326.1,312.1 1326.6,309.7 1327.0,308.0 1327.5,310.9 1328.0,306.4 1328.5,308.3 1328.9,306.6 1329.4,309.5 1329.9,307.2 1330.3,305.7 1330.8,310.0 1331.3,308.2 1331.8,311.8 1332.2,307.4 1332.7,310.7 1333.2,310.5 1333.6,308.0 1334.1,310.6 1334.6,306.1 1335.1,306.5 1335.5,301.4 1336.0,305.3 1336.5,301.5 1337.0,300.3 1337.5,302.5 1337.9,299.0 1338.4,301.4 1338.9,299.0 1339.4,295.5 1339.9,296.7 1340.4,294.4 1340.9,294.3 1341.4,292.4 1341.9,296.6 1342.4,302.4 1342.9,306.9 1343.4,313.3 1343.9,317.1 1344.3,315.0 1344.8,315.4 1345.3,312.6 1345.7,315.9 1346.2,310.7 1346.7,311.4 1347.2,318.5 1347.8,321.7 1348.3,331.1 1348.8,336.1 1349.3,330.0 1349.8,326.2 1350.3,319.2 1350.8,315.6 1351.3,308.1 1351.8,309.5 1352.2,312.9 1352.7,311.0 1353.2,317.7 1353.6,315.1 1354.1,321.2 1354.6,321.2 1355.1,319.1 1355.6,322.6 1356.1,317.6 1356.6,320.5 1357.1,319.6 1357.6,319.8 1358.1,325.1 1358.5,325.8 1359.0,331.1 1359.5,331.1 1360.0,326.6 1360.5,327.9 1360.9,320.2 1361.4,321.5 1361.9,316.5 1362.4,314.2 1362.8,311.4 1363.5,311.4 1364.0,311.5 1364.5,316.7 1365.0,315.5 1365.4,318.2 1365.9,319.6 1366.4,317.9 1366.9,316.8 1367.4,312.7 1367.9,313.0 1368.4,310.7 1368.9,309.7 1369.4,312.9 1369.9,312.7 1370.3,319.9 1370.8,319.5 1371.3,322.4 1371.7,321.9 1372.2,327.0 1372.7,326.8 1373.2,320.8 1373.7,319.3 1374.2,315.5 1374.7,312.6 1375.2,313.5 1375.7,310.0 1376.2,311.1 1376.8,307.6 1377.3,307.0 1377.8,305.2 1378.3,303.9 1378.8,305.2 1379.3,305.3 1379.8,308.2 1380.3,305.3 1380.8,308.1 1381.3,315.9 1381.9,320.1 1382.4,329.5 1382.9,333.0 1383.4,331.5 1383.9,335.3 1384.4,334.9 1384.9,336.9 1385.4,333.2 1386.0,322.7 1386.5,318.0 1387.0,316.6 1387.5,314.5 1387.9,315.4 1388.4,310.8 1388.9,312.4 1389.3,308.9 1389.8,309.1 1390.3,312.8 1390.8,309.1 1391.3,312.5 1391.8,311.4 1392.3,313.8 1392.8,313.5 1393.3,310.2 1393.8,313.6 1394.3,308.3 1394.8,309.7 1395.3,314.5 1395.9,317.7 1396.4,322.1 1396.9,320.1 1397.4,312.9 1397.9,311.1 1398.4,306.4 1398.9,303.1 1399.4,303.7 1400.0,300.6 1400.5,299.8 1401.1,306.2 1401.6,308.3 1402.1,314.3 1402.6,317.0 1403.1,324.3 1403.7,325.3 1404.2,332.0 1404.6,325.8 1405.1,317.5 1405.6,313.9 1406.1,306.2 1406.5,302.6 1407.0,292.6 1407.5,288.3 1408.0,290.8 1408.5,287.4 1409.1,291.3 1409.6,291.6 1410.1,297.1 1410.6,306.3 1411.1,310.1 1411.6,317.7 1412.1,323.7 1412.6,321.6 1413.1,322.9 1413.6,316.9 1414.1,319.7 1414.6,313.5 1415.0,314.7 1415.5,319.6 1416.0,319.1 1416.5,323.6 1417.0,325.4 1417.5,320.2 1418.0,319.3 1418.5,314.3 1419.0,313.1 1419.5,309.7 1420.0,307.5 1420.4,307.0 1420.9,303.1 1421.4,304.1 1421.8,297.0 1422.3,297.4 1422.8,302.2 1423.4,303.8 1423.9,308.2 1424.4,311.4 1424.9,311.1 1425.4,315.2 1425.8,313.9 1426.3,318.1 1426.8,315.8 1427.3,320.6 1427.7,319.6 1428.2,321.9 1428.7,325.1 1429.2,326.4 1429.7,331.5 1430.2,332.8 1430.7,333.2 1431.2,337.0 1431.7,335.6 1432.2,338.3 1432.7,338.6 1433.1,334.6 1433.6,335.4 1434.1,328.6 1434.6,329.2 1435.0,324.4 1435.5,325.6 1436.0,320.4 1436.5,324.8 1437.1,334.4 1437.7,333.4 1438.2,328.5 1438.7,327.3 1439.2,321.4 1439.8,320.4 1440.2,323.8 1440.7,325.6 1441.1,331.1 1441.6,328.4 1442.1,333.6 1442.6,330.8 1443.1,326.0 1443.6,325.9 1444.2,320.2 1444.7,318.0 1445.2,320.1 1445.6,319.9 1446.1,326.1 1446.6,324.7 1447.1,328.2 1447.5,328.9 1448.0,332.0 1448.5,328.7 1449.0,322.3 1449.5,321.6 1450.0,318.0 1450.4,316.6 1450.9,318.9 1451.4,315.8 1451.9,315.9 1452.3,314.8 1452.8,314.9 1453.3,313.8 1453.8,313.4 1454.4,318.4 1454.9,317.1 1455.4,313.7 1455.9,311.7 1456.3,306.2 1456.8,306.6 1457.3,301.5 1457.7,299.8 1458.2,296.5 1458.7,297.0 1459.2,301.6 1459.7,299.7 1460.2,301.9 1460.7,302.3 1461.2,298.0 1461.8,300.3 1462.3,293.0 1462.8,293.2 1463.4,299.0 1463.9,299.3 1464.4,308.1 1464.9,310.0 1465.4,316.5 1466.0,319.6 1466.4,314.8 1466.9,316.1 1467.4,310.9 1467.9,309.0 1468.3,303.0 1468.8,303.2 1469.3,297.9 1469.7,297.4 1470.2,299.0 1470.7,298.0 1471.2,300.0 1471.7,298.7 1472.2,300.7 1472.7,305.9 1473.2,305.2 1473.7,310.5 1474.2,309.6 1474.7,313.0 1475.2,310.5 1475.7,305.0 1476.2,305.1 1476.7,300.6 1477.2,298.2 1477.7,301.3 1478.2,299.8 1478.6,306.5 1479.1,304.5 1479.6,308.1 1480.1,311.9 1480.6,313.6 1481.1,321.3 1481.6,320.9 1482.1,330.0 1482.6,331.1 1483.1,327.5 1483.5,328.0 1484.0,320.6 1484.5,320.9 1484.9,316.4 1485.4,314.7 1485.9,316.9 1486.5,316.1 1487.0,319.4 1487.5,319.6 1488.0,323.8 1488.5,329.3 1489.0,330.6 1489.5,337.7 1490.0,337.1 1490.5,332.4 1490.9,334.9 1491.4,328.5 1491.9,329.6 1492.3,324.6 1492.8,325.4 1493.3,325.7 1493.8,318.7 1494.4,321.5 1494.9,315.4 1495.4,317.9 1495.9,312.9 1496.4,313.5 1496.9,309.7 1497.4,308.8 1497.9,312.3 1498.3,309.7 1498.8,311.7 1499.3,309.4 1499.8,312.7 1500.2,310.5 1500.7,313.5 1501.2,320.8 1501.7,320.0 1502.2,328.8 1502.7,330.3 1503.2,321.3 1503.7,315.6 1504.2,302.3 1504.7,295.7 1505.2,301.3 1505.7,301.3 1506.2,307.0 1506.7,308.1 1507.2,315.8 1507.6,318.0 1508.2,314.9 1508.7,315.4 1509.2,310.5 1509.7,313.1 1510.2,306.7 1510.8,308.0 1511.3,305.6 1511.8,309.0 1512.3,315.1 1512.8,318.5 1513.2,324.1 1513.7,327.5 1514.2,332.0 1514.7,331.2 1515.2,325.4 1515.7,323.3 1516.1,320.0 1516.6,319.3 1517.1,313.8 1517.5,311.4 1518.0,312.7 1518.5,310.2 1519.0,313.6 1519.5,308.7 1520.0,311.4 1520.6,319.6 1521.1,317.7 1521.6,312.3 1522.1,313.9 1522.6,307.3 1523.1,308.4 1523.6,303.1 1524.1,303.8 1524.7,309.4 1525.2,308.8 1525.7,315.6 1526.2,316.4 1526.7,321.0 1527.2,322.1 1527.7,317.1 1528.2,318.3 1528.7,312.8 1529.2,312.7 1529.7,308.9 1530.2,305.6 1530.7,309.1 1531.2,305.8 1531.7,306.6 1532.2,304.8 1532.7,308.2 1533.3,316.3 1533.8,318.0 1534.3,314.7 1534.8,315.7 1535.3,311.4 1535.8,312.8 1536.3,311.4 1536.8,309.9 1537.3,312.9 1537.8,309.9 1538.3,313.2 1538.8,312.2 1539.3,314.4 1539.8,318.6 1540.3,317.3 1540.8,324.3 1541.3,324.6 1541.8,323.1 1542.3,324.4 1542.9,321.2 1543.4,322.9 1543.9,329.3 1544.4,330.5 1544.9,337.7 1545.4,339.4 1545.9,333.6 1546.4,334.7 1546.9,329.4 1547.4,329.5 1547.8,324.6 1548.3,319.6 1548.8,320.5 1549.3,316.8 1549.8,316.2 1550.3,313.0 1550.8,313.3 1551.3,318.2 1551.8,318.4 1552.3,323.7 1552.8,324.6 1553.3,319.9 1553.9,319.5 1554.4,316.3 1554.9,313.0 1555.4,317.9 1555.9,313.0 1556.3,316.2 1556.8,312.9 1557.3,315.3 1557.7,312.2 1558.3,302.4 1558.8,297.8 1559.4,287.5 1559.9,287.5 1560.4,293.4 1560.9,292.3 1561.4,297.9 1561.9,299.8 1562.4,303.8 1562.9,309.3 1563.4,309.4 1563.9,318.4 1564.4,317.2 1564.9,325.4 1565.5,325.3 1566.0,332.0 1566.5,327.8 1567.0,320.0 1567.5,316.4 1568.0,306.7 1568.4,303.1 1568.9,304.0 1569.4,300.8 1569.9,302.9 1570.4,301.0 1570.9,301.5 1571.4,300.4 1571.9,295.5 1572.4,296.0 1572.9,292.4 1573.4,296.5 1574.0,301.1 1574.5,304.4 1575.0,309.7 1575.6,316.1 1576.1,316.4 1576.7,322.9 1577.2,322.6 1577.6,320.3 1578.1,321.5 1578.6,318.7 1579.0,319.9 1579.5,314.7 1580.0,316.3 1580.5,315.9 1581.0,312.7 1581.5,315.4 1582.0,310.3 1582.5,311.4 1583.0,316.3 1583.4,315.3 1583.9,321.0 1584.4,320.9 1584.9,326.2 1585.4,326.7 1586.0,321.9 1586.5,322.7 1587.0,316.7 1587.5,316.1 1588.0,313.6 1588.5,314.0 1589.1,309.7 1589.5,311.1 1590.0,316.7 1590.5,318.3 1590.9,324.7 1591.4,323.4 1591.9,330.4 1592.3,332.8 1592.8,328.2 1593.3,328.5 1593.7,324.8 1594.2,323.4 1594.7,319.3 1595.1,318.0 1595.7,318.3 1596.2,314.2 1596.8,314.1 1597.3,312.2 1597.8,317.1 1598.3,323.4 1598.8,328.1 1599.3,335.1 1599.8,338.3 1600.3,345.2 1600.7,342.2 1601.2,337.0 1601.7,336.1 1602.1,328.7 1602.6,329.4 1603.1,324.6 1603.6,320.9 1604.1,323.9 1604.5,321.0 1605.0,322.3 1605.5,319.6 1606.0,316.3 1606.5,314.3 1607.0,310.8 1607.4,310.0 1607.9,302.5 1608.4,303.4 1608.9,298.4 1609.3,296.5 1609.8,298.0 1610.4,296.0 1610.9,299.2 1611.4,296.4 1611.9,298.1 1612.4,295.5 1613.0,298.2 1613.5,304.2 1614.0,307.0 1614.6,311.4 1615.1,312.9 1615.5,307.7 1616.0,309.9 1616.5,306.3 1617.0,309.8 1617.4,305.3 1617.9,305.6 1618.4,307.7 1618.9,306.6 1619.4,309.9 1620.0,307.5 1620.5,312.3 1621.0,308.5 1621.5,312.5 1622.0,313.0 1622.5,310.8 1623.0,313.0 1623.5,307.2 1624.0,309.9 1624.5,305.2 1625.0,306.8 1625.5,302.0 1626.0,305.0 1626.5,302.3 1626.9,305.4 1627.4,311.3 1627.9,314.7 1628.4,321.8 1628.8,321.3 1629.3,327.8 1629.8,332.0 1630.3,329.0 1630.8,329.1 1631.3,324.3 1631.8,324.6 1632.3,318.9 1632.8,320.3 1633.4,315.7 1633.9,317.7 1634.4,313.0 1634.8,310.6 1635.3,313.2 1635.8,310.3 1636.3,311.7 1636.7,308.4 1637.2,311.7 1637.7,308.9 1638.2,305.4 1638.7,304.3 1639.2,299.4 1639.7,298.7 1640.1,294.9 1640.6,296.2 1641.1,304.2 1641.6,305.8 1642.0,311.4 1642.5,312.0 1643.0,318.6 1643.4,322.1 1644.0,318.3 1644.5,318.4 1645.0,316.0 1645.5,314.8 1646.0,310.6 1646.5,311.4 1647.0,308.5 1647.6,307.3 1648.0,308.9 1648.5,309.6 1649.0,313.9 1649.4,311.4 1649.9,317.5 1650.4,313.8 1650.9,318.0 1651.4,317.9 1651.8,312.1 1652.3,313.3 1652.8,308.8 1653.3,309.7 1653.7,320.4 1654.2,328.7 1654.7,328.1 1655.1,330.8 1655.6,326.3 1656.1,329.8 1656.6,328.4 1657.1,331.1 1657.6,326.6 1658.1,330.4 1658.6,325.9 1659.1,328.7 1659.6,328.0 1660.0,326.9 1660.5,326.6 1661.0,325.3 1661.5,326.5 1661.9,322.0 1662.4,322.9 1662.9,321.3 1663.3,318.5 1663.8,317.5 1664.3,313.4 1664.8,315.0 1665.2,308.5 1665.7,310.2 1666.2,307.3 1666.7,307.1 1667.1,313.7 1667.6,314.0 1668.1,318.4 1668.5,319.6 1669.0,322.9 1669.5,325.9 1670.0,320.7 1670.5,325.8 1671.1,323.7 1671.6,325.0 1672.1,324.3 1672.6,326.1 1673.1,325.4 1673.6,323.2 1674.1,325.3 1674.5,323.5 1675.0,326.8 1675.5,324.7 1675.9,325.9 1676.4,324.6 1676.9,319.9 1677.3,321.2 1677.8,315.9 1678.3,317.1 1678.7,310.5 1679.2,309.7 1679.7,313.3 1680.2,314.0 1680.6,320.4 1681.1,318.0 1681.6,325.7 1682.1,324.2 1682.5,328.9 1683.0,331.2 1683.5,326.2 1683.9,323.3 1684.4,315.8 1684.9,313.3 1685.4,306.5 1685.8,306.5 1686.3,299.8 1686.8,301.0 1687.3,305.1 1687.8,305.5 1688.3,311.5 1688.8,313.0 1689.3,309.7 1689.8,311.6 1690.3,306.5 1690.7,308.2 1691.2,305.6" fill="none" stroke="#93cdf1" stroke-width="3.6" stroke-linejoin="round" stroke-linecap="round"/>
<polyline points="1051.6,388.0 1052.1,382.3 1052.7,384.6 1053.2,378.9 1053.7,381.3 1054.1,390.5 1054.6,393.7 1055.0,388.7 1055.5,386.6 1055.9,380.6 1056.4,379.8 1056.9,373.2 1057.4,375.3 1057.9,384.0 1058.5,383.8 1059.0,390.5 1059.5,395.5 1060.0,393.1 1060.5,398.3 1061.0,397.6 1061.5,402.0 1062.0,395.9 1062.5,386.7 1063.1,382.0 1063.6,374.8 1064.1,375.1 1064.6,381.5 1065.1,382.1 1065.6,385.5 1066.1,388.1 1066.5,385.3 1067.0,388.1 1067.5,383.4 1068.0,385.9 1068.4,383.4 1068.9,385.5 1069.4,389.8 1069.9,388.3 1070.4,395.2 1070.9,396.2 1071.4,392.4 1071.9,393.6 1072.4,388.1 1072.8,387.9 1073.3,383.0 1073.8,386.2 1074.3,390.7 1074.8,393.0 1075.3,399.2 1075.8,399.0 1076.3,403.6 1076.8,403.6 1077.2,398.7 1077.7,399.3 1078.2,393.3 1078.7,393.3 1079.1,389.5 1079.6,388.8 1080.1,392.5 1080.6,391.5 1081.1,395.6 1081.6,394.6 1082.1,397.0 1082.6,401.2 1083.1,400.6 1083.7,409.0 1084.2,409.4 1084.7,405.1 1085.1,407.6 1085.6,403.3 1086.1,405.6 1086.5,399.7 1087.0,400.3 1087.5,403.1 1088.0,400.9 1088.5,405.9 1089.0,403.6 1089.5,407.8 1090.0,405.7 1090.4,400.6 1090.9,399.6 1091.4,393.7 1091.8,392.6 1092.3,387.1 1092.8,383.9 1093.3,388.9 1093.8,387.0 1094.3,392.9 1094.8,392.7 1095.3,395.4 1095.7,393.1 1096.2,386.1 1096.7,383.7 1097.2,376.6 1097.7,374.8 1098.2,380.0 1098.7,383.7 1099.2,390.4 1099.7,392.8 1100.2,400.3 1100.7,397.9 1101.2,390.4 1101.7,386.8 1102.2,379.3 1102.7,375.6 1103.1,377.6 1103.6,373.6 1104.1,376.6 1104.6,373.0 1105.0,376.1 1105.5,375.2 1106.0,375.6 1106.4,381.4 1106.9,382.3 1107.4,386.7 1107.8,388.3 1108.3,394.2 1108.8,396.4 1109.3,400.3 1109.7,404.4 1110.2,401.8 1110.7,406.8 1111.1,405.3 1111.6,410.0 1112.1,408.2 1112.6,410.2 1113.1,415.1 1113.5,413.1 1114.0,419.9 1114.5,417.3 1115.0,421.8 1115.5,415.6 1116.0,404.5 1116.5,400.4 1117.0,388.9 1117.5,382.2 1118.0,382.0 1118.4,378.7 1118.9,383.1 1119.4,378.4 1119.9,381.9 1120.3,378.7 1120.8,378.9 1121.3,379.3 1121.7,374.7 1122.2,378.8 1122.7,372.6 1123.1,374.7 1123.6,371.4 1124.1,372.3 1124.6,374.8 1125.0,373.1 1125.5,375.6 1126.0,375.7 1126.4,378.4 1126.9,376.6 1127.4,378.9 1127.9,383.0 1128.4,384.5 1128.9,390.4 1129.4,390.0 1129.9,395.4 1130.4,397.7 1130.9,396.2 1131.4,399.7 1131.9,396.8 1132.4,401.2 1132.9,396.4 1133.5,400.1 1134.0,400.3 1134.5,399.9 1135.0,405.5 1135.5,403.0 1136.0,406.8 1136.4,405.6 1136.9,407.8 1137.5,405.8 1138.0,403.2 1138.5,402.1 1139.0,399.0 1139.5,399.5 1140.0,394.2 1140.6,393.7 1141.1,395.3 1141.6,389.6 1142.1,391.4 1142.6,386.6 1143.1,389.9 1143.7,385.4 1144.2,388.2 1144.7,384.7 1145.2,385.2 1145.6,390.4 1146.1,390.1 1146.6,394.9 1147.0,393.7 1147.5,399.5 1148.0,401.2 1148.5,397.9 1148.9,400.2 1149.4,399.4 1149.9,400.4 1150.3,397.6 1150.8,399.1 1151.3,397.0 1151.8,394.6 1152.3,395.1 1152.8,388.7 1153.3,390.4 1153.7,386.3 1154.2,388.7 1154.7,399.0 1155.2,399.3 1155.6,408.1 1156.1,411.0 1156.6,416.1 1157.0,420.9 1157.5,418.2 1158.0,420.6 1158.5,415.5 1158.9,416.4 1159.4,413.3 1159.9,412.9 1160.3,410.2 1160.8,406.4 1161.3,409.2 1161.8,404.0 1162.3,405.0 1162.8,403.6 1163.3,399.8 1163.7,397.5 1164.2,391.4 1164.7,390.7 1165.1,384.5 1165.6,383.9 1166.1,385.4 1166.6,383.0 1167.0,387.8 1167.5,386.3 1168.0,390.7 1168.5,387.7 1168.9,391.6 1169.4,390.5 1169.9,389.9 1170.4,392.1 1170.9,386.7 1171.4,389.4 1171.9,388.8 1172.4,392.0 1172.9,400.1 1173.4,404.2 1173.9,410.9 1174.3,415.2 1174.8,410.3 1175.3,411.7 1175.8,403.2 1176.2,405.7 1176.7,398.1 1177.2,398.6 1177.6,393.7 1178.1,389.5 1178.6,388.2 1179.1,380.8 1179.6,379.6 1180.1,374.8 1180.6,374.8 1181.1,380.5 1181.6,381.8 1182.1,385.1 1182.6,387.2 1183.1,384.9 1183.5,385.1 1184.0,379.4 1184.5,380.2 1185.0,376.5 1185.4,377.6 1185.9,372.6 1186.4,372.3 1186.8,374.9 1187.3,373.6 1187.8,376.5 1188.2,377.7 1188.7,380.4 1189.2,380.6 1189.6,382.3 1190.1,387.4 1190.6,387.0 1191.1,392.3 1191.5,391.7 1192.0,395.0 1192.5,397.0 1192.9,394.3 1193.4,395.3 1193.9,391.9 1194.4,393.5 1194.8,389.4 1195.3,390.4 1195.8,387.2 1196.2,386.2 1196.7,391.3 1197.2,390.0 1197.6,395.4 1198.1,392.5 1198.6,396.1 1199.1,397.0 1199.6,393.6 1200.1,390.7 1200.5,386.2 1201.0,384.1 1201.5,380.6 1202.0,380.7 1202.5,385.7 1203.0,385.6 1203.5,389.9 1204.0,390.5 1204.5,387.8 1204.9,391.1 1205.4,390.0 1205.8,391.3 1206.3,390.5 1206.8,384.6 1207.4,383.1 1207.9,373.6 1208.4,370.7 1209.0,389.2 1209.6,405.3 1210.1,406.0 1210.6,407.7 1211.1,408.4 1211.6,412.3 1212.1,411.1 1212.6,406.4 1213.1,405.9 1213.5,400.9 1214.0,400.0 1214.5,397.0 1215.1,398.9 1215.6,404.6 1216.2,406.9 1216.7,404.4 1217.1,404.5 1217.6,398.2 1218.1,399.4 1218.5,395.3 1219.0,395.4 1219.5,391.3 1220.0,392.5 1220.5,398.1 1221.0,398.4 1221.5,403.7 1221.9,403.6 1222.5,398.9 1223.0,394.8 1223.6,388.3 1224.1,384.7 1224.6,389.2 1225.1,392.3 1225.6,398.4 1226.1,400.3 1226.6,402.0 1227.1,410.2 1227.6,412.9 1228.0,420.0 1228.5,422.6 1229.1,414.8 1229.6,409.4 1230.2,401.2 1230.7,400.5 1231.1,405.0 1231.6,404.6 1232.1,406.5 1232.5,406.1 1233.0,411.7 1233.5,410.2 1234.0,408.5 1234.5,412.2 1235.0,411.3 1235.5,414.9 1236.0,414.3 1236.4,408.7 1236.9,405.9 1237.4,397.5 1237.9,393.7 1238.5,393.4 1239.0,387.7 1239.5,388.5 1240.0,380.9 1240.6,380.6 1241.0,387.1 1241.5,390.6 1242.0,397.6 1242.4,401.1 1242.9,408.6 1243.4,411.9 1243.8,406.1 1244.3,405.8 1244.8,397.6 1245.2,396.6 1245.7,390.6 1246.2,388.8 1246.7,390.7 1247.2,387.8 1247.7,388.6 1248.2,387.2 1248.7,388.6 1249.2,384.6 1249.8,387.2 1250.3,383.9 1250.8,385.5 1251.3,390.7 1251.9,391.8 1252.4,398.6 1252.9,402.0 1253.5,392.1 1254.0,388.9 1254.6,380.6 1255.0,382.2 1255.5,384.1 1256.0,383.5 1256.4,389.6 1256.9,387.0 1257.4,390.5 1257.9,395.2 1258.4,396.6 1258.9,405.3 1259.4,407.3 1259.8,411.9 1260.3,414.7 1260.8,413.5 1261.3,417.1 1261.7,418.8 1262.2,421.6 1262.7,419.9 1263.2,426.9 1263.6,425.9 1264.1,422.9 1264.6,424.3 1265.0,417.5 1265.5,420.1 1266.0,413.9 1266.4,413.5 1267.0,411.9 1267.5,403.1 1268.0,403.2 1268.6,396.2 1269.1,399.8 1269.6,407.1 1270.1,410.2 1270.6,416.8 1271.1,416.2 1271.5,411.9 1272.0,411.9 1272.5,407.5 1273.0,406.9 1273.5,406.6 1274.0,402.3 1274.4,401.7 1274.9,397.5 1275.4,398.3 1275.9,393.8 1276.3,392.9 1276.8,398.2 1277.3,399.3 1277.8,404.8 1278.3,406.0 1278.8,410.2 1279.3,410.2 1279.8,403.9 1280.3,405.8 1280.8,400.0 1281.3,399.9 1281.8,397.0 1282.3,399.8 1282.7,409.2 1283.2,412.1 1283.7,418.5 1284.3,410.5 1284.8,399.8 1285.4,392.1 1285.9,399.4 1286.4,400.4 1286.9,409.3 1287.4,411.1 1287.9,418.5 1288.4,415.8 1288.8,410.6 1289.3,409.6 1289.8,404.4 1290.3,402.0 1290.8,401.9 1291.3,397.8 1291.7,400.9 1292.2,397.2 1292.7,397.3 1293.2,393.4 1293.6,394.6 1294.1,398.0 1294.7,395.8 1295.2,401.0 1295.7,398.8 1296.2,403.1 1296.7,403.7 1297.2,406.4 1297.7,406.9 1298.2,402.7 1298.7,401.4 1299.1,393.1 1299.6,392.3 1300.1,383.6 1300.5,382.2 1301.0,386.9 1301.5,386.5 1302.0,390.6 1302.5,391.8 1303.0,396.8 1303.5,397.0 1304.0,394.6 1304.5,397.7 1304.9,395.0 1305.4,396.4 1305.9,393.9 1306.3,396.9 1306.8,394.6 1307.3,394.5 1307.8,401.9 1308.3,399.6 1308.8,405.7 1309.3,405.8 1309.8,409.4 1310.2,408.2 1310.7,402.6 1311.2,403.7 1311.6,400.7 1312.1,399.9 1312.6,397.0 1313.0,392.7 1313.5,395.9 1314.0,390.8 1314.4,392.3 1314.9,385.6 1315.4,386.3 1315.9,389.9 1316.4,390.5 1316.9,395.5 1317.4,394.6 1317.8,398.3 1318.3,400.3 1318.8,395.8 1319.3,397.6 1319.8,393.3 1320.3,394.1 1320.8,390.5 1321.3,393.7 1321.8,398.5 1322.2,401.4 1322.7,407.5 1323.2,410.4 1323.6,415.5 1324.1,418.5 1324.6,412.0 1325.1,410.7 1325.7,403.6 1326.2,402.9 1326.7,396.3 1327.2,392.6 1327.7,386.3 1328.2,383.9 1328.7,383.1 1329.3,378.1 1329.8,377.0 1330.3,371.6 1330.8,374.1 1331.3,368.4 1331.8,368.2 1332.3,364.1 1332.8,367.1 1333.3,374.2 1333.8,377.8 1334.3,383.5 1334.8,387.2 1335.3,386.3 1335.8,390.8 1336.3,388.7 1336.8,391.5 1337.3,392.1 1337.8,396.9 1338.4,403.7 1338.9,407.0 1339.4,413.5 1339.9,413.1 1340.5,408.2 1341.0,409.6 1341.5,405.1 1342.0,407.1 1342.5,402.6 1343.1,403.6 1343.5,405.4 1344.0,404.1 1344.5,407.9 1344.9,407.8 1345.4,411.2 1345.9,407.7 1346.4,411.1 1346.8,407.7 1347.3,400.6 1347.8,400.0 1348.2,391.8 1348.7,390.6 1349.2,385.3 1349.6,382.2 1350.1,384.2 1350.6,383.1 1351.1,388.3 1351.6,385.1 1352.1,388.8 1352.7,387.9 1353.2,382.8 1353.7,383.6 1354.3,378.9 1354.7,381.6 1355.2,385.7 1355.7,385.9 1356.1,392.2 1356.6,391.2 1357.1,397.0 1357.6,397.3 1358.1,395.8 1358.5,397.6 1359.0,397.0 1359.5,397.0 1360.0,394.7 1360.5,391.5 1361.0,390.2 1361.5,385.3 1362.0,383.9 1362.5,386.6 1362.9,385.7 1363.4,389.8 1363.8,387.7 1364.3,390.5 1364.8,398.0 1365.3,399.5 1365.8,406.2 1366.3,408.2 1366.8,414.3 1367.2,411.3 1367.7,403.7 1368.2,402.6 1368.7,395.4 1369.1,394.8 1369.6,388.7 1370.1,385.5 1370.6,392.4 1371.1,394.2 1371.7,401.8 1372.2,406.1 1372.7,404.4 1373.1,405.8 1373.6,400.5 1374.1,400.4 1374.5,396.7 1375.0,397.0 1375.5,396.9 1375.9,392.8 1376.4,393.0 1376.9,388.1 1377.4,389.8 1377.8,386.0 1378.3,385.5 1378.9,392.0 1379.4,392.2 1379.9,397.0 1380.5,392.7 1381.0,385.6 1381.6,380.6 1382.1,387.0 1382.6,387.9 1383.1,395.7 1383.6,397.9 1384.1,403.6 1384.6,400.4 1385.2,393.7 1385.7,392.1 1386.2,395.0 1386.7,393.1 1387.1,398.1 1387.6,396.6 1388.1,400.4 1388.5,401.4 1389.0,403.6 1389.5,405.0 1390.0,399.1 1390.5,401.6 1391.0,397.0 1391.5,397.0 1392.0,397.0 1392.5,393.9 1393.0,393.6 1393.5,390.0 1394.0,390.5 1394.4,388.6 1394.8,382.0 1395.3,378.9 1395.7,379.6 1396.2,376.3 1396.7,377.3 1397.1,374.0 1397.6,374.9 1398.1,372.3 1398.6,372.8 1399.1,376.5 1399.6,375.9 1400.1,379.0 1400.5,378.9 1401.0,383.8 1401.5,392.5 1402.0,397.8 1402.5,407.2 1403.0,411.9 1403.5,402.4 1404.0,397.7 1404.4,385.8 1404.9,381.6 1405.4,371.4 1405.8,364.1 1406.3,368.1 1406.8,367.3 1407.3,373.9 1407.8,373.0 1408.3,378.8 1408.8,380.6 1409.3,386.2 1409.8,397.1 1410.3,399.0 1410.8,410.1 1411.3,415.2 1411.7,412.3 1412.2,411.7 1412.7,407.3 1413.1,407.4 1413.6,399.5 1414.1,401.7 1414.6,397.0 1415.1,393.4 1415.6,393.6 1416.1,387.9 1416.6,387.8 1417.1,381.2 1417.6,379.8 1418.2,374.4 1418.7,374.0 1419.1,374.7 1419.6,370.7 1420.1,374.5 1420.6,370.6 1421.0,374.0 1421.5,370.6 1422.0,370.7 1422.4,374.1 1422.9,371.6 1423.4,373.6 1423.8,373.5 1424.3,375.6 1424.8,376.1 1425.3,377.3 1425.7,380.0 1426.2,378.8 1426.7,380.5 1427.1,380.2 1427.6,382.8 1428.1,380.3 1428.6,383.9 1429.0,388.8 1429.5,386.1 1430.0,393.7 1430.4,392.0 1430.9,397.9 1431.4,397.2 1431.9,400.3 1432.3,405.9 1432.8,404.0 1433.3,411.3 1433.8,411.6 1434.3,415.2 1434.9,410.1 1435.4,401.9 1435.9,400.7 1436.5,393.7 1436.9,389.4 1437.4,390.9 1437.8,385.4 1438.3,385.2 1438.8,380.6 1439.3,382.0 1439.8,388.3 1440.3,387.5 1440.7,392.1 1441.2,391.6 1441.7,397.0 1442.2,400.8 1442.7,400.9 1443.2,408.3 1443.7,408.2 1444.2,411.9 1444.7,411.9 1445.2,406.9 1445.8,406.6 1446.3,403.4 1446.8,404.8 1447.3,399.1 1447.8,399.6 1448.3,396.2 1448.8,397.4 1449.3,401.5 1449.8,401.9 1450.3,408.7 1450.8,406.8 1451.3,411.9 1451.8,411.2 1452.3,408.0 1452.8,407.9 1453.4,403.2 1453.9,405.5 1454.4,400.9 1454.9,400.3 1455.4,400.4 1455.9,397.0 1456.5,398.6 1457.0,393.3 1457.5,394.6 1458.0,389.5 1458.5,390.8 1459.0,388.8 1459.6,391.2 1460.1,398.6 1460.7,402.0 1461.2,394.8 1461.7,392.4 1462.2,386.4 1462.7,384.0 1463.2,377.3 1463.7,375.5 1464.2,377.5 1464.7,374.4 1465.2,376.2 1465.7,374.0 1466.2,374.8 1466.8,372.2 1467.3,374.0 1467.8,374.5 1468.3,371.2 1468.8,374.9 1469.3,371.5 1469.9,374.7 1470.4,372.4 1470.9,374.7 1471.4,372.3 1471.9,372.3 1472.4,376.4 1472.9,372.6 1473.4,377.5 1473.9,374.2 1474.4,378.5 1474.9,376.2 1475.4,381.6 1475.8,379.2 1476.3,380.6 1476.8,383.0 1477.3,383.7 1477.8,388.3 1478.2,388.6 1478.7,391.8 1479.2,390.9 1479.6,395.4 1480.1,395.5 1480.6,393.1 1481.0,393.1 1481.5,390.0 1482.0,391.2 1482.5,388.4 1482.9,388.8 1483.4,388.0 1484.0,382.9 1484.5,383.2 1485.0,377.0 1485.5,377.1 1486.0,372.1 1486.6,372.3 1487.1,377.6 1487.5,381.6 1488.0,388.5 1488.5,389.4 1489.0,397.2 1489.5,400.3 1490.0,401.9 1490.5,406.8 1491.0,405.9 1491.5,410.9 1492.0,411.1 1492.5,409.4 1492.9,410.5 1493.4,406.1 1493.9,407.9 1494.3,404.4 1494.8,404.9 1495.3,403.6 1495.8,400.1 1496.2,402.1 1496.7,398.0 1497.2,398.2 1497.7,392.8 1498.1,393.4 1498.6,389.0 1499.1,389.6 1499.5,394.5 1500.0,394.4 1500.5,397.7 1501.0,399.3 1501.4,402.7 1501.9,404.2 1502.4,406.9 1502.8,406.7 1503.3,402.9 1503.8,402.8 1504.2,399.0 1504.7,399.7 1505.2,397.0 1505.6,392.7 1506.1,394.8 1506.6,390.4 1507.1,389.2 1507.5,386.4 1508.0,385.3 1508.5,382.2 1509.0,388.1 1509.5,396.5 1510.1,398.6 1510.6,406.9 1511.1,408.1 1511.5,403.1 1512.0,402.1 1512.5,398.2 1512.9,399.8 1513.4,397.0 1513.9,393.7 1514.4,396.7 1514.8,394.1 1515.3,394.4 1515.8,390.9 1516.2,394.2 1516.7,392.1 1517.2,394.2 1517.6,399.9 1518.1,399.8 1518.6,407.6 1519.0,407.2 1519.5,411.9 1519.9,403.0 1520.4,392.1 1520.8,383.9 1521.3,386.4 1521.7,382.7 1522.2,385.7 1522.6,383.9 1523.2,384.0 1523.7,388.5 1524.2,387.2 1524.8,390.5 1525.3,394.1 1525.8,394.9 1526.3,401.8 1526.7,402.1 1527.2,405.3 1527.7,403.1 1528.2,396.3 1528.7,398.2 1529.2,392.1 1529.7,390.6 1530.2,385.5 1530.7,383.1 1531.1,386.5 1531.6,382.2 1532.1,383.2 1532.5,381.3 1533.0,381.4 1533.5,385.9 1534.0,384.3 1534.5,389.4 1535.0,389.5 1535.5,393.8 1536.0,398.9 1536.5,398.5 1537.0,403.7 1537.5,405.7 1538.0,410.3 1538.4,413.0 1538.9,412.2 1539.4,416.6 1539.9,417.2 1540.4,419.3 1541.0,416.5 1541.5,409.2 1542.1,405.3 1542.6,408.2 1543.1,405.8 1543.6,408.8 1544.1,405.7 1544.5,408.6 1545.0,412.5 1545.5,413.7 1545.9,419.5 1546.4,420.3 1546.9,426.5 1547.4,430.0 1547.8,423.3 1548.3,421.6 1548.8,415.3 1549.2,412.2 1549.7,404.9 1550.2,402.8 1550.7,396.5 1551.1,392.1 1551.6,391.0 1552.1,386.1 1552.5,387.0 1553.0,380.6 1553.5,380.3 1553.9,376.5 1554.4,379.3 1554.9,386.1 1555.4,385.9 1555.9,392.0 1556.4,391.3 1556.9,397.1 1557.4,396.2 1557.9,391.0 1558.3,391.9 1558.8,388.8 1559.3,387.2 1559.7,383.8 1560.2,383.1 1560.7,391.0 1561.2,393.4 1561.7,400.6 1562.2,402.7 1562.7,410.3 1563.2,415.7 1563.7,419.1 1564.2,425.6 1564.7,427.5 1565.2,433.3 1565.6,431.0 1566.1,420.9 1566.6,419.2 1567.1,412.0 1567.6,408.6 1568.1,409.1 1568.6,407.2 1569.1,407.9 1569.6,403.4 1570.1,405.3 1570.6,409.1 1571.1,409.6 1571.6,416.2 1572.1,417.0 1572.6,420.2 1573.0,421.3 1573.5,417.0 1574.0,416.8 1574.5,412.5 1574.9,413.1 1575.4,410.6 1575.9,410.3 1576.4,407.7 1576.9,403.0 1577.3,401.4 1577.8,398.0 1578.3,395.4 1578.8,393.6 1579.3,390.3 1579.8,388.3 1580.3,385.0 1580.8,383.1 1581.3,385.6 1581.8,384.8 1582.2,388.5 1582.7,386.1 1583.2,389.1 1583.6,388.8 1584.1,390.5 1584.6,395.3 1585.2,395.3 1585.7,400.0 1586.2,400.4 1586.8,398.0 1587.3,398.8 1587.8,392.9 1588.3,393.6 1588.8,387.4 1589.4,387.9 1589.9,385.5 1590.4,387.7 1590.9,392.1 1591.4,390.8 1591.9,396.8 1592.3,397.1 1592.8,398.4 1593.3,402.8 1593.8,403.0 1594.3,406.9 1594.8,407.8 1595.3,405.7 1595.8,406.8 1596.2,403.1 1596.7,403.4 1597.2,399.5 1597.6,400.3 1598.1,398.7 1598.6,396.7 1599.1,400.6 1599.5,398.8 1600.0,400.0 1600.5,398.5 1600.9,401.6 1601.4,400.4 1601.9,396.2 1602.4,397.0 1602.9,392.6 1603.4,394.1 1603.9,388.6 1604.4,387.2 1604.8,393.1 1605.3,391.0 1605.8,399.4 1606.2,397.2 1606.7,403.7 1607.2,406.1 1607.7,401.2 1608.1,402.4 1608.6,397.5 1609.1,398.1 1609.5,390.8 1610.0,392.2 1610.5,387.2 1611.0,385.4 1611.5,387.0 1612.0,384.2 1612.5,386.9 1613.1,385.4 1613.6,387.7 1614.1,385.2 1614.6,385.5 1615.1,386.2 1615.6,382.2 1616.1,383.8 1616.6,380.9 1617.1,382.4 1617.6,381.4 1618.0,384.5 1618.5,392.1 1619.0,392.8 1619.4,399.3 1619.9,403.7 1620.4,401.4 1620.9,402.9 1621.4,397.4 1621.9,397.9 1622.4,393.9 1623.0,395.2 1623.5,389.4 1624.0,391.6 1624.5,388.0 1625.0,388.2 1625.4,392.2 1625.9,390.5 1626.4,393.7 1626.8,391.8 1627.3,398.5 1627.8,397.1 1628.3,396.6 1628.7,403.2 1629.2,400.7 1629.7,406.0 1630.1,404.6 1630.6,409.1 1631.1,408.6 1631.6,406.6 1632.0,411.2 1632.5,406.3 1633.0,411.1 1633.4,407.9 1633.9,410.8 1634.4,408.6 1634.8,405.9 1635.3,406.7 1635.8,403.3 1636.3,405.2 1636.7,399.2 1637.2,402.5 1637.7,398.7 1638.1,394.7 1638.6,395.0 1639.1,391.9 1639.6,391.8 1640.0,387.5 1640.5,387.0 1641.0,383.9 1641.5,385.8 1642.0,388.6 1642.5,388.3 1642.9,393.1 1643.4,394.6 1643.9,390.8 1644.4,392.6 1644.9,387.9 1645.3,389.7 1645.8,386.6 1646.3,387.1 1646.8,384.5 1647.2,383.1 1647.8,386.3 1648.3,386.0 1648.8,389.1 1649.3,388.7 1649.8,394.1 1650.3,395.1 1650.9,397.1 1651.4,397.5 1651.8,391.8 1652.3,390.9 1652.8,387.8 1653.3,385.5 1653.8,384.5 1654.3,380.9 1654.8,383.2 1655.2,378.8 1655.7,379.5 1656.2,376.7 1656.7,378.9 1657.1,374.8 1657.6,375.7 1658.2,381.4 1658.7,378.0 1659.2,382.7 1659.7,381.9 1660.2,386.2 1660.8,388.0 1661.2,388.3 1661.7,394.8 1662.2,392.8 1662.6,398.5 1663.1,396.9 1663.6,401.9 1664.0,403.7 1664.5,400.9 1665.0,401.8 1665.5,398.7 1665.9,399.0 1666.4,395.2 1666.9,397.5 1667.3,394.6 1667.8,395.1 1668.3,401.8 1668.8,401.1 1669.2,408.0 1669.7,405.9 1670.2,412.4 1670.6,413.6 1671.1,409.9 1671.6,410.7 1672.1,404.4 1672.5,403.0 1673.0,399.1 1673.5,399.3 1673.9,394.6 1674.4,390.9 1674.9,394.3 1675.4,389.5 1675.9,392.9 1676.4,387.1 1676.9,389.4 1677.4,385.8 1677.9,388.2 1678.4,384.1 1678.9,383.9 1679.4,387.2 1679.9,388.1 1680.4,395.1 1680.9,395.1 1681.4,398.7 1681.8,404.9 1682.3,404.8 1682.8,411.9 1683.3,415.5 1683.8,420.2 1684.3,417.1 1684.8,410.3 1685.2,409.4 1685.7,399.5 1686.2,399.0 1686.7,391.1 1687.1,388.8 1687.6,389.5 1688.1,386.2 1688.5,388.4 1689.0,384.1 1689.5,383.8 1689.9,381.2 1690.4,381.4 1690.9,383.6 1691.4,384.4 1691.9,389.0 1692.4,387.3 1692.9,392.1" fill="none" stroke="#93cdf1" stroke-width="3.6" stroke-linejoin="round" stroke-linecap="round"/>
<text transform="translate(94.80 74.20) scale(1 1.08)" font-size="29.5">DS</text>
<text transform="translate(94.60 268.30) scale(1 1.08)" font-size="29.5">+CLB</text>
<text transform="translate(53.00 294.40) rotate(-90) scale(1 1.08)" font-size="29.5" text-anchor="middle">4 mV</text>
<line x1="65.80" y1="270.70" x2="65.80" y2="322.90" stroke="#000" stroke-width="3"/>
<line x1="578.60" y1="359.20" x2="646.80" y2="359.20" stroke="#141414" stroke-width="3"/>
<text transform="translate(596.50 391.70) scale(1 1.08)" font-size="29.5">1 s</text>
<line x1="813.20" y1="100.70" x2="813.20" y2="359.30" stroke="#000" stroke-width="2.4"/>
<line x1="812.00" y1="358.10" x2="939.60" y2="358.10" stroke="#000" stroke-width="2.4"/>
<line x1="806.20" y1="358.10" x2="813.20" y2="358.10" stroke="#000" stroke-width="2.4"/>
<text transform="translate(799.50 368.50) scale(1 1.08)" font-size="29.5" text-anchor="end">0.0</text>
<line x1="806.20" y1="272.70" x2="813.20" y2="272.70" stroke="#000" stroke-width="2.4"/>
<text transform="translate(799.50 283.10) scale(1 1.08)" font-size="29.5" text-anchor="end">0.5</text>
<line x1="806.20" y1="187.30" x2="813.20" y2="187.30" stroke="#000" stroke-width="2.4"/>
<text transform="translate(799.50 197.70) scale(1 1.08)" font-size="29.5" text-anchor="end">1.0</text>
<line x1="806.20" y1="101.90" x2="813.20" y2="101.90" stroke="#000" stroke-width="2.4"/>
<text transform="translate(799.50 112.30) scale(1 1.08)" font-size="29.5" text-anchor="end">1.5</text>
<line x1="848.50" y1="358.10" x2="848.50" y2="364.50" stroke="#000" stroke-width="2.4"/>
<line x1="903.30" y1="358.10" x2="903.30" y2="364.50" stroke="#000" stroke-width="2.4"/>
<text transform="translate(746.30 232.10) rotate(-90) scale(1 1.08)" font-size="29" text-anchor="middle">Spikes (norm)</text>
<line x1="848.6" y1="188.0" x2="903.3" y2="176.6" stroke="#a2a2a2" stroke-width="2.6" stroke-dasharray="0.01 4.3" stroke-linecap="round"/>
<line x1="848.6" y1="188.0" x2="903.3" y2="199.5" stroke="#a2a2a2" stroke-width="2.6" stroke-dasharray="0.01 4.3" stroke-linecap="round"/>
<line x1="848.6" y1="188.0" x2="903.3" y2="223.1" stroke="#a2a2a2" stroke-width="2.6" stroke-dasharray="0.01 4.3" stroke-linecap="round"/>
<line x1="848.6" y1="188.0" x2="903.3" y2="236.5" stroke="#a2a2a2" stroke-width="2.6" stroke-dasharray="0.01 4.3" stroke-linecap="round"/>
<line x1="848.6" y1="188.0" x2="903.3" y2="240.3" stroke="#a2a2a2" stroke-width="2.6" stroke-dasharray="0.01 4.3" stroke-linecap="round"/>
<circle cx="903.3" cy="176.6" r="4.6" fill="#93cdf1"/>
<circle cx="903.3" cy="199.5" r="4.6" fill="#93cdf1"/>
<circle cx="903.3" cy="223.1" r="4.6" fill="#93cdf1"/>
<circle cx="903.3" cy="236.5" r="4.6" fill="#93cdf1"/>
<circle cx="903.3" cy="240.3" r="4.6" fill="#93cdf1"/>
<circle cx="848.6" cy="188.0" r="4.6" fill="#4455a6"/>
<text transform="translate(859.00 389.70) rotate(-45) scale(1 1.08)" font-size="29.5" text-anchor="end">DS</text>
<text transform="translate(911.00 389.00) rotate(-45) scale(1 1.08)" font-size="29.5" text-anchor="end">+CLB</text>
<text transform="translate(1053.60 71.50) scale(1 1.08)" font-size="29.5">DS</text>
<text transform="translate(1053.40 269.20) scale(1 1.08)" font-size="29.5">+CLB</text>
<text transform="translate(1702.00 112.00) scale(1 1.08)" font-size="29.5">L</text>
<text transform="translate(1702.00 188.20) scale(1 1.08)" font-size="29.5">R</text>
<text transform="translate(1702.00 324.30) scale(1 1.08)" font-size="29.5">L</text>
<text transform="translate(1702.00 406.50) scale(1 1.08)" font-size="29.5">R</text>
<text transform="translate(1023.00 391.40) rotate(-90) scale(1 1.08)" font-size="29.5" text-anchor="middle">2 mV</text>
<line x1="1035.30" y1="369.50" x2="1035.30" y2="409.50" stroke="#000" stroke-width="2.6"/>
<line x1="1571.00" y1="445.90" x2="1701.70" y2="445.90" stroke="#3a3a3a" stroke-width="3.2"/>
<text transform="translate(1624.00 481.60) scale(1 1.08)" font-size="29.5">1 s</text>
<line x1="112.00" y1="571.10" x2="112.00" y2="827.70" stroke="#000" stroke-width="2.4"/>
<line x1="110.80" y1="826.50" x2="238.80" y2="826.50" stroke="#000" stroke-width="2.4"/>
<line x1="105.00" y1="826.50" x2="112.00" y2="826.50" stroke="#000" stroke-width="2.4"/>
<text transform="translate(100.20 837.50) scale(1 1.08)" font-size="29.5" text-anchor="end">0.0</text>
<line x1="105.00" y1="775.66" x2="112.00" y2="775.66" stroke="#000" stroke-width="2.4"/>
<text transform="translate(100.20 786.66) scale(1 1.08)" font-size="29.5" text-anchor="end">0.2</text>
<line x1="105.00" y1="724.82" x2="112.00" y2="724.82" stroke="#000" stroke-width="2.4"/>
<text transform="translate(100.20 735.82) scale(1 1.08)" font-size="29.5" text-anchor="end">0.4</text>
<line x1="105.00" y1="673.98" x2="112.00" y2="673.98" stroke="#000" stroke-width="2.4"/>
<text transform="translate(100.20 684.98) scale(1 1.08)" font-size="29.5" text-anchor="end">0.6</text>
<line x1="105.00" y1="623.14" x2="112.00" y2="623.14" stroke="#000" stroke-width="2.4"/>
<text transform="translate(100.20 634.14) scale(1 1.08)" font-size="29.5" text-anchor="end">0.8</text>
<line x1="105.00" y1="572.30" x2="112.00" y2="572.30" stroke="#000" stroke-width="2.4"/>
<text transform="translate(100.20 583.30) scale(1 1.08)" font-size="29.5" text-anchor="end">1.0</text>
<line x1="148.20" y1="826.50" x2="148.20" y2="833.30" stroke="#000" stroke-width="2.4"/>
<line x1="202.90" y1="826.50" x2="202.90" y2="833.30" stroke="#000" stroke-width="2.4"/>
<text transform="translate(46.50 698.50) rotate(-90) scale(1 1.08)" font-size="29" text-anchor="middle">Total power&#160;&#160;<tspan dx="-2" font-size="28.4">(μV</tspan><tspan dy="-10" font-size="19">2</tspan><tspan dy="10" font-size="28.4">/Hz)</tspan></text>
<line x1="148.0" y1="624.2" x2="202.3" y2="601.1" stroke="#a2a2a2" stroke-width="2.6" stroke-dasharray="0.01 4.3" stroke-linecap="round"/>
<line x1="148.0" y1="632.1" x2="202.3" y2="742.5" stroke="#a2a2a2" stroke-width="2.6" stroke-dasharray="0.01 4.3" stroke-linecap="round"/>
<line x1="148.0" y1="643.6" x2="202.3" y2="627.1" stroke="#a2a2a2" stroke-width="2.6" stroke-dasharray="0.01 4.3" stroke-linecap="round"/>
<line x1="148.0" y1="649.1" x2="202.3" y2="637.6" stroke="#a2a2a2" stroke-width="2.6" stroke-dasharray="0.01 4.3" stroke-linecap="round"/>
<line x1="148.0" y1="677.7" x2="202.3" y2="683.2" stroke="#a2a2a2" stroke-width="2.6" stroke-dasharray="0.01 4.3" stroke-linecap="round"/>
<circle cx="202.3" cy="601.1" r="4.6" fill="#93cdf1"/>
<circle cx="202.3" cy="627.1" r="4.6" fill="#93cdf1"/>
<circle cx="202.3" cy="637.6" r="4.6" fill="#93cdf1"/>
<circle cx="202.3" cy="683.2" r="4.6" fill="#93cdf1"/>
<circle cx="202.3" cy="742.5" r="4.6" fill="#93cdf1"/>
<circle cx="148.0" cy="624.2" r="4.6" fill="#4455a6"/>
<circle cx="148.0" cy="632.1" r="4.6" fill="#4455a6"/>
<circle cx="148.0" cy="643.6" r="4.6" fill="#4455a6"/>
<circle cx="148.0" cy="649.1" r="4.6" fill="#4455a6"/>
<circle cx="148.0" cy="677.7" r="4.6" fill="#4455a6"/>
<text transform="translate(155.70 858.80) rotate(-45) scale(1 1.08)" font-size="29.5" text-anchor="end">DS</text>
<text transform="translate(210.00 858.90) rotate(-45) scale(1 1.08)" font-size="29.5" text-anchor="end">+CLB</text>
<line x1="372.50" y1="570.60" x2="372.50" y2="826.40" stroke="#000" stroke-width="2.4"/>
<line x1="371.30" y1="825.20" x2="754.80" y2="825.20" stroke="#000" stroke-width="2.4"/>
<line x1="366.00" y1="605.90" x2="372.50" y2="605.90" stroke="#000" stroke-width="2.4"/>
<text transform="translate(340.00 618.50) scale(1 1.08)" font-size="29.5" text-anchor="end">10</text>
<text transform="translate(340.20 607.20) scale(1 1.02)" font-size="23">-1</text>
<line x1="366.00" y1="679.00" x2="372.50" y2="679.00" stroke="#000" stroke-width="2.4"/>
<text transform="translate(340.00 691.60) scale(1 1.08)" font-size="29.5" text-anchor="end">10</text>
<text transform="translate(340.20 680.30) scale(1 1.02)" font-size="23">-2</text>
<line x1="366.00" y1="752.10" x2="372.50" y2="752.10" stroke="#000" stroke-width="2.4"/>
<text transform="translate(340.00 764.70) scale(1 1.08)" font-size="29.5" text-anchor="end">10</text>
<text transform="translate(340.20 753.40) scale(1 1.02)" font-size="23">-3</text>
<line x1="366.00" y1="825.20" x2="372.50" y2="825.20" stroke="#000" stroke-width="2.4"/>
<text transform="translate(340.00 837.80) scale(1 1.08)" font-size="29.5" text-anchor="end">10</text>
<text transform="translate(340.20 826.50) scale(1 1.02)" font-size="23">-4</text>
<line x1="369.00" y1="583.89" x2="372.50" y2="583.89" stroke="#000" stroke-width="1.8"/>
<line x1="369.00" y1="571.02" x2="372.50" y2="571.02" stroke="#000" stroke-width="1.8"/>
<line x1="369.00" y1="656.99" x2="372.50" y2="656.99" stroke="#000" stroke-width="1.8"/>
<line x1="369.00" y1="644.12" x2="372.50" y2="644.12" stroke="#000" stroke-width="1.8"/>
<line x1="369.00" y1="634.99" x2="372.50" y2="634.99" stroke="#000" stroke-width="1.8"/>
<line x1="369.00" y1="627.91" x2="372.50" y2="627.91" stroke="#000" stroke-width="1.8"/>
<line x1="369.00" y1="622.12" x2="372.50" y2="622.12" stroke="#000" stroke-width="1.8"/>
<line x1="369.00" y1="617.22" x2="372.50" y2="617.22" stroke="#000" stroke-width="1.8"/>
<line x1="369.00" y1="612.98" x2="372.50" y2="612.98" stroke="#000" stroke-width="1.8"/>
<line x1="369.00" y1="609.24" x2="372.50" y2="609.24" stroke="#000" stroke-width="1.8"/>
<line x1="369.00" y1="730.09" x2="372.50" y2="730.09" stroke="#000" stroke-width="1.8"/>
<line x1="369.00" y1="717.22" x2="372.50" y2="717.22" stroke="#000" stroke-width="1.8"/>
<line x1="369.00" y1="708.09" x2="372.50" y2="708.09" stroke="#000" stroke-width="1.8"/>
<line x1="369.00" y1="701.01" x2="372.50" y2="701.01" stroke="#000" stroke-width="1.8"/>
<line x1="369.00" y1="695.22" x2="372.50" y2="695.22" stroke="#000" stroke-width="1.8"/>
<line x1="369.00" y1="690.32" x2="372.50" y2="690.32" stroke="#000" stroke-width="1.8"/>
<line x1="369.00" y1="686.08" x2="372.50" y2="686.08" stroke="#000" stroke-width="1.8"/>
<line x1="369.00" y1="682.34" x2="372.50" y2="682.34" stroke="#000" stroke-width="1.8"/>
<line x1="369.00" y1="803.19" x2="372.50" y2="803.19" stroke="#000" stroke-width="1.8"/>
<line x1="369.00" y1="790.32" x2="372.50" y2="790.32" stroke="#000" stroke-width="1.8"/>
<line x1="369.00" y1="781.19" x2="372.50" y2="781.19" stroke="#000" stroke-width="1.8"/>
<line x1="369.00" y1="774.11" x2="372.50" y2="774.11" stroke="#000" stroke-width="1.8"/>
<line x1="369.00" y1="768.32" x2="372.50" y2="768.32" stroke="#000" stroke-width="1.8"/>
<line x1="369.00" y1="763.42" x2="372.50" y2="763.42" stroke="#000" stroke-width="1.8"/>
<line x1="369.00" y1="759.18" x2="372.50" y2="759.18" stroke="#000" stroke-width="1.8"/>
<line x1="369.00" y1="755.44" x2="372.50" y2="755.44" stroke="#000" stroke-width="1.8"/>
<line x1="380.80" y1="825.20" x2="380.80" y2="832.70" stroke="#000" stroke-width="2.4"/>
<text transform="translate(380.80 864.80) scale(1 1.08)" font-size="29.5" text-anchor="middle">1</text>
<line x1="567.60" y1="825.20" x2="567.60" y2="832.70" stroke="#000" stroke-width="2.4"/>
<text transform="translate(567.60 864.80) scale(1 1.08)" font-size="29.5" text-anchor="middle">10</text>
<line x1="754.40" y1="825.20" x2="754.40" y2="832.70" stroke="#000" stroke-width="2.4"/>
<text transform="translate(754.40 864.80) scale(1 1.08)" font-size="29.5" text-anchor="middle">100</text>
<line x1="437.03" y1="825.20" x2="437.03" y2="829.70" stroke="#000" stroke-width="1.8"/>
<line x1="469.93" y1="825.20" x2="469.93" y2="829.70" stroke="#000" stroke-width="1.8"/>
<line x1="493.26" y1="825.20" x2="493.26" y2="829.70" stroke="#000" stroke-width="1.8"/>
<line x1="511.37" y1="825.20" x2="511.37" y2="829.70" stroke="#000" stroke-width="1.8"/>
<line x1="526.16" y1="825.20" x2="526.16" y2="829.70" stroke="#000" stroke-width="1.8"/>
<line x1="538.66" y1="825.20" x2="538.66" y2="829.70" stroke="#000" stroke-width="1.8"/>
<line x1="549.50" y1="825.20" x2="549.50" y2="829.70" stroke="#000" stroke-width="1.8"/>
<line x1="559.05" y1="825.20" x2="559.05" y2="829.70" stroke="#000" stroke-width="1.8"/>
<line x1="623.83" y1="825.20" x2="623.83" y2="829.70" stroke="#000" stroke-width="1.8"/>
<line x1="656.73" y1="825.20" x2="656.73" y2="829.70" stroke="#000" stroke-width="1.8"/>
<line x1="680.06" y1="825.20" x2="680.06" y2="829.70" stroke="#000" stroke-width="1.8"/>
<line x1="698.17" y1="825.20" x2="698.17" y2="829.70" stroke="#000" stroke-width="1.8"/>
<line x1="712.96" y1="825.20" x2="712.96" y2="829.70" stroke="#000" stroke-width="1.8"/>
<line x1="725.46" y1="825.20" x2="725.46" y2="829.70" stroke="#000" stroke-width="1.8"/>
<line x1="736.30" y1="825.20" x2="736.30" y2="829.70" stroke="#000" stroke-width="1.8"/>
<line x1="745.85" y1="825.20" x2="745.85" y2="829.70" stroke="#000" stroke-width="1.8"/>
<text transform="translate(564.80 896.00) scale(1 1.08)" font-size="29.3" text-anchor="middle">Frequency (Hz)</text>
<text transform="translate(295.00 699.00) rotate(-90) scale(1 1.08)" font-size="29.6" text-anchor="middle">Normalized PSD</text>
<polyline points="379.1,605.6 434.3,605.9 467.6,610.7 509.4,612.3 523.9,619.3 545.9,632.2 560.0,641.8 572.6,651.5 588.0,665.5 602.2,676.5 613.2,688.0 620.9,693.0 636.3,705.5 651.7,715.5 664.8,720.5 680.4,728.3 689.7,736.5 697.2,745.2 712.1,752.1 721.0,760.0 730.8,768.9 739.5,775.0 745.8,780.2 749.5,788.0 753.6,819.7" fill="none" stroke="#c9e6f9" stroke-width="9" stroke-linejoin="round" stroke-linecap="round"/>
<polyline points="379.1,605.6 434.3,605.9 467.6,610.7 509.4,612.3 523.9,619.3 545.9,632.2 560.0,641.8 572.6,651.5 588.0,665.5 602.2,676.5 613.2,688.0 620.9,693.0 636.3,705.5 651.7,715.5 664.8,720.5 680.4,728.3 689.7,736.5 697.2,745.2 712.1,752.1 721.0,760.0 730.8,768.9 739.5,775.0 745.8,780.2 749.5,788.0 753.6,819.7" fill="none" stroke="#93cdf1" stroke-width="3.6" stroke-linejoin="round" stroke-linecap="round"/>
<polyline points="379.1,599.2 434.3,601.6 467.6,606.2 509.4,607.0 523.9,611.8 545.9,635.4 555.0,641.0 572.6,654.2 588.0,669.5 602.2,679.4 613.2,691.5 620.9,695.9 636.3,706.9 651.7,714.6 664.8,716.8 673.6,721.2 682.4,724.5 691.2,732.2 697.8,738.7 708.8,746.4 719.8,751.9 724.2,756.3 730.7,759.6 739.5,765.1 748.3,771.7 751.6,783.8 753.8,814.5" fill="none" stroke="#4455a6" stroke-width="4.6" stroke-linejoin="round" stroke-linecap="round"/>
<line x1="387.80" y1="740.90" x2="433.70" y2="740.90" stroke="#4455a6" stroke-width="4.3" stroke-linecap="round"/>
<line x1="387.80" y1="794.20" x2="433.70" y2="794.20" stroke="#93cdf1" stroke-width="4.3" stroke-linecap="round"/>
<text transform="translate(459.00 751.50) scale(1 1.08)" font-size="29.5">DS</text>
<text transform="translate(458.00 804.00) scale(1 1.08)" font-size="29.5">+CLB</text>
<line x1="866.90" y1="571.60" x2="866.90" y2="829.20" stroke="#000" stroke-width="2.4"/>
<line x1="865.70" y1="828.00" x2="1248.60" y2="828.00" stroke="#000" stroke-width="2.4"/>
<line x1="860.40" y1="828.10" x2="866.90" y2="828.10" stroke="#000" stroke-width="2.4"/>
<text transform="translate(855.00 838.30) scale(1 1.08)" font-size="29.5" text-anchor="end">0</text>
<line x1="860.40" y1="743.00" x2="866.90" y2="743.00" stroke="#000" stroke-width="2.4"/>
<text transform="translate(855.00 753.20) scale(1 1.08)" font-size="29.5" text-anchor="end">20</text>
<line x1="860.40" y1="657.90" x2="866.90" y2="657.90" stroke="#000" stroke-width="2.4"/>
<text transform="translate(855.00 668.10) scale(1 1.08)" font-size="29.5" text-anchor="end">40</text>
<line x1="860.40" y1="572.80" x2="866.90" y2="572.80" stroke="#000" stroke-width="2.4"/>
<text transform="translate(855.00 583.00) scale(1 1.08)" font-size="29.5" text-anchor="end">60</text>
<line x1="900.80" y1="828.00" x2="900.80" y2="835.00" stroke="#000" stroke-width="2.4"/>
<text transform="translate(900.80 869.00) scale(1 1.08)" font-size="29.5" text-anchor="middle">δ</text>
<line x1="979.30" y1="828.00" x2="979.30" y2="835.00" stroke="#000" stroke-width="2.4"/>
<text transform="translate(979.30 869.00) scale(1 1.08)" font-size="29.5" text-anchor="middle">θ</text>
<line x1="1058.30" y1="828.00" x2="1058.30" y2="835.00" stroke="#000" stroke-width="2.4"/>
<text transform="translate(1058.30 869.00) scale(1 1.08)" font-size="29.5" text-anchor="middle">α</text>
<line x1="1136.40" y1="828.00" x2="1136.40" y2="835.00" stroke="#000" stroke-width="2.4"/>
<text transform="translate(1136.40 869.00) scale(1 1.08)" font-size="29.5" text-anchor="middle">β</text>
<line x1="1215.10" y1="828.00" x2="1215.10" y2="835.00" stroke="#000" stroke-width="2.4"/>
<text transform="translate(1215.10 869.00) scale(1 1.08)" font-size="29.5" text-anchor="middle">γ</text>
<text transform="translate(808.40 701.50) rotate(-90) scale(1 1.08)" font-size="29" text-anchor="middle">% Power</text>
<text transform="translate(1137.40 704.00)" font-size="36.5" text-anchor="middle" font-weight="bold" style="font-family:&apos;DejaVu Sans&apos;,sans-serif;stroke-width:0.9px">*</text>
<line x1="1121.00" y1="709.90" x2="1152.20" y2="709.90" stroke="#000" stroke-width="2.4"/>
<line x1="886.8" y1="600.0" x2="916.0" y2="615.7" stroke="#a2a2a2" stroke-width="2.6" stroke-dasharray="0.01 4.3" stroke-linecap="round"/>
<line x1="886.8" y1="604.0" x2="916.0" y2="628.9" stroke="#a2a2a2" stroke-width="2.6" stroke-dasharray="0.01 4.3" stroke-linecap="round"/>
<line x1="886.8" y1="636.9" x2="916.0" y2="606.2" stroke="#a2a2a2" stroke-width="2.6" stroke-dasharray="0.01 4.3" stroke-linecap="round"/>
<line x1="886.8" y1="645.2" x2="916.0" y2="654.5" stroke="#a2a2a2" stroke-width="2.6" stroke-dasharray="0.01 4.3" stroke-linecap="round"/>
<line x1="886.8" y1="658.8" x2="916.0" y2="693.8" stroke="#a2a2a2" stroke-width="2.6" stroke-dasharray="0.01 4.3" stroke-linecap="round"/>
<circle cx="916.0" cy="606.2" r="4.6" fill="#93cdf1"/>
<circle cx="916.0" cy="615.7" r="4.6" fill="#93cdf1"/>
<circle cx="916.0" cy="628.9" r="4.6" fill="#93cdf1"/>
<circle cx="916.0" cy="654.5" r="4.6" fill="#93cdf1"/>
<circle cx="916.0" cy="693.8" r="4.6" fill="#93cdf1"/>
<circle cx="886.8" cy="600.0" r="4.6" fill="#4455a6"/>
<circle cx="886.8" cy="604.0" r="4.6" fill="#4455a6"/>
<circle cx="886.8" cy="636.9" r="4.6" fill="#4455a6"/>
<circle cx="886.8" cy="645.2" r="4.6" fill="#4455a6"/>
<circle cx="886.8" cy="658.8" r="4.6" fill="#4455a6"/>
<line x1="965.2" y1="708.0" x2="994.5" y2="698.5" stroke="#a2a2a2" stroke-width="2.6" stroke-dasharray="0.01 4.3" stroke-linecap="round"/>
<line x1="965.2" y1="724.6" x2="994.5" y2="720.6" stroke="#a2a2a2" stroke-width="2.6" stroke-dasharray="0.01 4.3" stroke-linecap="round"/>
<line x1="965.2" y1="731.4" x2="994.5" y2="724.9" stroke="#a2a2a2" stroke-width="2.6" stroke-dasharray="0.01 4.3" stroke-linecap="round"/>
<line x1="965.2" y1="741.5" x2="994.5" y2="740.6" stroke="#a2a2a2" stroke-width="2.6" stroke-dasharray="0.01 4.3" stroke-linecap="round"/>
<line x1="965.2" y1="748.3" x2="994.5" y2="779.7" stroke="#a2a2a2" stroke-width="2.6" stroke-dasharray="0.01 4.3" stroke-linecap="round"/>
<circle cx="994.5" cy="698.5" r="4.6" fill="#93cdf1"/>
<circle cx="994.5" cy="720.6" r="4.6" fill="#93cdf1"/>
<circle cx="994.5" cy="724.9" r="4.6" fill="#93cdf1"/>
<circle cx="994.5" cy="740.6" r="4.6" fill="#93cdf1"/>
<circle cx="994.5" cy="779.7" r="4.6" fill="#93cdf1"/>
<circle cx="965.2" cy="708.0" r="4.6" fill="#4455a6"/>
<circle cx="965.2" cy="724.6" r="4.6" fill="#4455a6"/>
<circle cx="965.2" cy="731.4" r="4.6" fill="#4455a6"/>
<circle cx="965.2" cy="741.5" r="4.6" fill="#4455a6"/>
<circle cx="965.2" cy="748.3" r="4.6" fill="#4455a6"/>
<line x1="1043.6" y1="788.0" x2="1072.5" y2="772.4" stroke="#a2a2a2" stroke-width="2.6" stroke-dasharray="0.01 4.3" stroke-linecap="round"/>
<line x1="1043.6" y1="791.0" x2="1072.5" y2="785.6" stroke="#a2a2a2" stroke-width="2.6" stroke-dasharray="0.01 4.3" stroke-linecap="round"/>
<line x1="1043.6" y1="794.0" x2="1072.5" y2="789.0" stroke="#a2a2a2" stroke-width="2.6" stroke-dasharray="0.01 4.3" stroke-linecap="round"/>
<line x1="1043.6" y1="796.0" x2="1072.5" y2="792.0" stroke="#a2a2a2" stroke-width="2.6" stroke-dasharray="0.01 4.3" stroke-linecap="round"/>
<line x1="1043.6" y1="797.5" x2="1072.5" y2="800.0" stroke="#a2a2a2" stroke-width="2.6" stroke-dasharray="0.01 4.3" stroke-linecap="round"/>
<circle cx="1072.5" cy="772.4" r="4.6" fill="#93cdf1"/>
<circle cx="1072.5" cy="785.6" r="4.6" fill="#93cdf1"/>
<circle cx="1072.5" cy="789.0" r="4.6" fill="#93cdf1"/>
<circle cx="1072.5" cy="792.0" r="4.6" fill="#93cdf1"/>
<circle cx="1072.5" cy="800.0" r="4.6" fill="#93cdf1"/>
<circle cx="1043.6" cy="788.0" r="4.6" fill="#4455a6"/>
<circle cx="1043.6" cy="791.0" r="4.6" fill="#4455a6"/>
<circle cx="1043.6" cy="794.0" r="4.6" fill="#4455a6"/>
<circle cx="1043.6" cy="796.0" r="4.6" fill="#4455a6"/>
<circle cx="1043.6" cy="797.5" r="4.6" fill="#4455a6"/>
<line x1="1122.0" y1="772.4" x2="1151.7" y2="756.0" stroke="#a2a2a2" stroke-width="2.6" stroke-dasharray="0.01 4.3" stroke-linecap="round"/>
<line x1="1122.0" y1="776.0" x2="1151.7" y2="758.3" stroke="#a2a2a2" stroke-width="2.6" stroke-dasharray="0.01 4.3" stroke-linecap="round"/>
<line x1="1122.0" y1="779.0" x2="1151.7" y2="773.7" stroke="#a2a2a2" stroke-width="2.6" stroke-dasharray="0.01 4.3" stroke-linecap="round"/>
<line x1="1122.0" y1="782.0" x2="1151.7" y2="776.0" stroke="#a2a2a2" stroke-width="2.6" stroke-dasharray="0.01 4.3" stroke-linecap="round"/>
<line x1="1122.0" y1="784.6" x2="1151.7" y2="778.3" stroke="#a2a2a2" stroke-width="2.6" stroke-dasharray="0.01 4.3" stroke-linecap="round"/>
<circle cx="1151.7" cy="756.0" r="4.6" fill="#93cdf1"/>
<circle cx="1151.7" cy="758.3" r="4.6" fill="#93cdf1"/>
<circle cx="1151.7" cy="773.7" r="4.6" fill="#93cdf1"/>
<circle cx="1151.7" cy="776.0" r="4.6" fill="#93cdf1"/>
<circle cx="1151.7" cy="778.3" r="4.6" fill="#93cdf1"/>
<circle cx="1122.0" cy="772.4" r="4.6" fill="#4455a6"/>
<circle cx="1122.0" cy="776.0" r="4.6" fill="#4455a6"/>
<circle cx="1122.0" cy="779.0" r="4.6" fill="#4455a6"/>
<circle cx="1122.0" cy="782.0" r="4.6" fill="#4455a6"/>
<circle cx="1122.0" cy="784.6" r="4.6" fill="#4455a6"/>
<line x1="1200.5" y1="778.3" x2="1230.2" y2="773.2" stroke="#a2a2a2" stroke-width="2.6" stroke-dasharray="0.01 4.3" stroke-linecap="round"/>
<line x1="1200.5" y1="782.0" x2="1230.2" y2="780.7" stroke="#a2a2a2" stroke-width="2.6" stroke-dasharray="0.01 4.3" stroke-linecap="round"/>
<line x1="1200.5" y1="786.0" x2="1230.2" y2="791.6" stroke="#a2a2a2" stroke-width="2.6" stroke-dasharray="0.01 4.3" stroke-linecap="round"/>
<line x1="1200.5" y1="789.0" x2="1230.2" y2="794.1" stroke="#a2a2a2" stroke-width="2.6" stroke-dasharray="0.01 4.3" stroke-linecap="round"/>
<line x1="1200.5" y1="792.5" x2="1230.2" y2="792.0" stroke="#a2a2a2" stroke-width="2.6" stroke-dasharray="0.01 4.3" stroke-linecap="round"/>
<circle cx="1230.2" cy="773.2" r="4.6" fill="#93cdf1"/>
<circle cx="1230.2" cy="780.7" r="4.6" fill="#93cdf1"/>
<circle cx="1230.2" cy="791.6" r="4.6" fill="#93cdf1"/>
<circle cx="1230.2" cy="794.1" r="4.6" fill="#93cdf1"/>
<circle cx="1230.2" cy="792.0" r="4.6" fill="#93cdf1"/>
<circle cx="1200.5" cy="778.3" r="4.6" fill="#4455a6"/>
<circle cx="1200.5" cy="782.0" r="4.6" fill="#4455a6"/>
<circle cx="1200.5" cy="786.0" r="4.6" fill="#4455a6"/>
<circle cx="1200.5" cy="789.0" r="4.6" fill="#4455a6"/>
<circle cx="1200.5" cy="792.5" r="4.6" fill="#4455a6"/>
<line x1="1365.30" y1="571.10" x2="1365.30" y2="826.70" stroke="#000" stroke-width="2.4"/>
<line x1="1364.10" y1="825.50" x2="1746.50" y2="825.50" stroke="#000" stroke-width="2.4"/>
<line x1="1358.80" y1="783.10" x2="1365.30" y2="783.10" stroke="#000" stroke-width="2.4"/>
<text transform="translate(1353.20 793.30) scale(1 1.08)" font-size="29.5" text-anchor="end">0.3</text>
<line x1="1358.80" y1="740.94" x2="1365.30" y2="740.94" stroke="#000" stroke-width="2.4"/>
<text transform="translate(1353.20 751.14) scale(1 1.08)" font-size="29.5" text-anchor="end">0.4</text>
<line x1="1358.80" y1="698.78" x2="1365.30" y2="698.78" stroke="#000" stroke-width="2.4"/>
<text transform="translate(1353.20 708.98) scale(1 1.08)" font-size="29.5" text-anchor="end">0.5</text>
<line x1="1358.80" y1="656.62" x2="1365.30" y2="656.62" stroke="#000" stroke-width="2.4"/>
<text transform="translate(1353.20 666.82) scale(1 1.08)" font-size="29.5" text-anchor="end">0.6</text>
<line x1="1358.80" y1="614.46" x2="1365.30" y2="614.46" stroke="#000" stroke-width="2.4"/>
<text transform="translate(1353.20 624.66) scale(1 1.08)" font-size="29.5" text-anchor="end">0.7</text>
<line x1="1358.80" y1="572.30" x2="1365.30" y2="572.30" stroke="#000" stroke-width="2.4"/>
<text transform="translate(1353.20 582.50) scale(1 1.08)" font-size="29.5" text-anchor="end">0.8</text>
<line x1="1373.40" y1="825.50" x2="1373.40" y2="833.00" stroke="#000" stroke-width="2.4"/>
<text transform="translate(1373.40 864.80) scale(1 1.08)" font-size="29.5" text-anchor="middle">1</text>
<line x1="1559.70" y1="825.50" x2="1559.70" y2="833.00" stroke="#000" stroke-width="2.4"/>
<text transform="translate(1559.70 864.80) scale(1 1.08)" font-size="29.5" text-anchor="middle">10</text>
<line x1="1746.00" y1="825.50" x2="1746.00" y2="833.00" stroke="#000" stroke-width="2.4"/>
<text transform="translate(1746.00 864.80) scale(1 1.08)" font-size="29.5" text-anchor="middle">100</text>
<line x1="1429.48" y1="825.50" x2="1429.48" y2="830.00" stroke="#000" stroke-width="1.8"/>
<line x1="1462.29" y1="825.50" x2="1462.29" y2="830.00" stroke="#000" stroke-width="1.8"/>
<line x1="1485.56" y1="825.50" x2="1485.56" y2="830.00" stroke="#000" stroke-width="1.8"/>
<line x1="1503.62" y1="825.50" x2="1503.62" y2="830.00" stroke="#000" stroke-width="1.8"/>
<line x1="1518.37" y1="825.50" x2="1518.37" y2="830.00" stroke="#000" stroke-width="1.8"/>
<line x1="1530.84" y1="825.50" x2="1530.84" y2="830.00" stroke="#000" stroke-width="1.8"/>
<line x1="1541.65" y1="825.50" x2="1541.65" y2="830.00" stroke="#000" stroke-width="1.8"/>
<line x1="1551.18" y1="825.50" x2="1551.18" y2="830.00" stroke="#000" stroke-width="1.8"/>
<line x1="1615.78" y1="825.50" x2="1615.78" y2="830.00" stroke="#000" stroke-width="1.8"/>
<line x1="1648.59" y1="825.50" x2="1648.59" y2="830.00" stroke="#000" stroke-width="1.8"/>
<line x1="1671.86" y1="825.50" x2="1671.86" y2="830.00" stroke="#000" stroke-width="1.8"/>
<line x1="1689.92" y1="825.50" x2="1689.92" y2="830.00" stroke="#000" stroke-width="1.8"/>
<line x1="1704.67" y1="825.50" x2="1704.67" y2="830.00" stroke="#000" stroke-width="1.8"/>
<line x1="1717.14" y1="825.50" x2="1717.14" y2="830.00" stroke="#000" stroke-width="1.8"/>
<line x1="1727.95" y1="825.50" x2="1727.95" y2="830.00" stroke="#000" stroke-width="1.8"/>
<line x1="1737.48" y1="825.50" x2="1737.48" y2="830.00" stroke="#000" stroke-width="1.8"/>
<text transform="translate(1555.90 896.00) scale(1 1.08)" font-size="29.3" text-anchor="middle">Frequency (Hz)</text>
<text transform="translate(1298.20 700.40) rotate(-90) scale(1 1.08)" font-size="29" text-anchor="middle">Coherence</text>
<polyline points="1371.4,699.6 1427.5,691.6 1460.3,687.8 1483.6,689.5 1501.6,673.1 1516.4,666.4 1528.8,680.3 1539.6,697.1 1550.0,709.7 1566.5,729.4 1583.0,737.7 1599.4,739.3 1622.5,755.8 1632.4,769.8 1640.0,770.0 1648.6,767.1 1658.6,762.9 1665.7,768.6 1672.9,760.0 1677.1,768.6 1687.1,771.4 1694.3,760.0 1700.0,751.4 1705.7,750.0 1711.4,745.7 1717.1,752.9 1725.7,748.6 1732.9,750.0 1740.0,742.9 1745.7,734.3" fill="none" stroke="#93cdf1" stroke-width="1.4" stroke-linejoin="round" stroke-linecap="round" stroke-dasharray="3.6 2.2" stroke-linecap="butt"/>
<polyline points="1371.4,749.1 1427.5,745.8 1460.3,740.3 1483.6,728.1 1501.6,715.5 1516.4,717.6 1528.8,734.4 1539.6,749.6 1550.0,765.7 1563.2,772.3 1579.7,785.5 1592.9,783.8 1612.6,792.1 1624.2,802.0 1637.4,811.9 1640.0,810.0 1648.6,807.1 1654.3,808.6 1661.4,800.0 1668.6,794.3 1675.7,800.0 1682.9,811.4 1690.0,804.3 1697.1,802.9 1704.3,798.6 1711.4,788.6 1720.0,792.9 1725.7,787.1 1732.9,785.7 1740.0,774.3 1745.7,767.1" fill="none" stroke="#93cdf1" stroke-width="1.4" stroke-linejoin="round" stroke-linecap="round" stroke-dasharray="3.6 2.2" stroke-linecap="butt"/>
<polyline points="1371.2,723.4 1427.2,717.8 1459.9,713.5 1482.3,708.4 1502.0,694.4 1515.0,692.6 1528.0,708.4 1539.0,723.4 1550.0,737.7 1559.9,747.6 1566.5,749.2 1579.7,762.4 1589.6,762.4 1602.7,765.7 1619.2,775.6 1625.8,778.9 1632.4,788.8 1640.0,790.0 1647.1,788.6 1654.3,787.1 1661.4,785.7 1668.6,785.7 1675.7,785.7 1682.9,787.1 1688.6,785.7 1694.3,784.3 1700.0,774.3 1707.1,765.7 1714.3,764.3 1720.0,767.1 1725.7,760.0 1732.9,757.1 1740.0,750.0 1745.0,747.1" fill="none" stroke="#93cdf1" stroke-width="5.3" stroke-linejoin="round" stroke-linecap="round"/>
<polyline points="1371.4,692.4 1427.5,700.0 1460.3,697.1 1483.6,680.3 1501.6,649.6 1516.4,645.8 1528.8,658.8 1539.6,674.0 1549.2,687.8 1550.0,689.9 1558.2,696.5 1566.5,711.3 1583.0,732.7 1592.9,747.6 1599.4,742.6 1607.7,750.9 1617.6,759.1 1625.0,756.6 1629.1,770.7 1635.7,770.7 1640.0,781.4 1644.3,771.4 1648.6,768.6 1654.3,762.9 1658.6,767.1 1661.4,761.4 1666.4,762.9 1670.0,767.1 1672.9,751.4 1675.7,749.3 1679.3,765.7 1684.3,770.0 1688.6,767.1 1692.9,777.1 1697.1,782.9 1701.4,764.3 1704.3,760.0 1706.4,746.4 1708.6,762.9 1712.9,761.4 1717.1,750.0 1720.0,768.6 1724.3,761.4 1728.6,757.1 1732.9,754.3 1735.7,744.3 1740.0,747.1 1743.6,732.1 1745.7,745.7" fill="none" stroke="#4455a6" stroke-width="1.6" stroke-linejoin="round" stroke-linecap="round" stroke-dasharray="3.6 2.2" stroke-linecap="butt"/>
<polyline points="1371.4,754.2 1427.5,758.8 1460.3,755.4 1483.6,719.7 1501.6,684.0 1516.4,676.9 1528.8,699.2 1539.6,727.3 1550.0,742.6 1559.9,750.9 1579.7,765.7 1594.5,785.5 1612.6,793.7 1627.5,810.2 1640.0,820.0 1644.3,811.4 1648.6,802.9 1652.9,805.7 1655.7,802.9 1658.6,811.4 1662.9,802.9 1667.1,798.6 1671.4,805.7 1677.1,792.9 1682.9,814.3 1687.1,814.3 1691.4,804.3 1697.9,814.3 1701.4,805.7 1707.1,791.4 1711.4,800.0 1714.3,791.4 1717.1,802.9 1721.4,792.9 1725.0,805.7 1728.6,792.9 1734.3,790.0 1740.0,775.7 1745.7,774.3" fill="none" stroke="#4455a6" stroke-width="1.6" stroke-linejoin="round" stroke-linecap="round" stroke-dasharray="3.6 2.2" stroke-linecap="butt"/>
<polyline points="1371.2,723.4 1427.2,729.0 1459.9,726.5 1482.3,701.9 1501.0,666.4 1515.9,659.9 1529.0,678.6 1539.3,702.8 1548.6,715.9 1550.0,715.4 1566.5,731.1 1579.7,745.9 1589.6,764.1 1599.4,765.7 1606.0,771.5 1614.3,771.5 1619.2,778.9 1625.0,780.5 1629.1,790.4 1635.7,793.7 1640.0,800.0 1644.3,798.6 1646.4,788.6 1650.7,787.1 1652.9,784.3 1655.7,788.6 1658.6,784.3 1661.4,781.4 1665.0,780.0 1667.9,785.7 1670.7,779.3 1673.6,777.1 1676.4,772.9 1678.6,777.1 1681.4,790.0 1685.7,792.1 1689.3,792.9 1691.4,785.7 1694.3,788.6 1697.1,795.7 1700.0,785.7 1702.9,782.9 1705.7,771.4 1708.6,777.9 1711.4,780.0 1714.3,772.9 1717.1,771.4 1719.3,781.4 1722.1,785.7 1725.7,782.9 1728.6,778.6 1731.4,774.3 1734.3,768.6 1738.6,762.9 1741.4,757.1 1743.6,749.3 1745.0,760.0" fill="none" stroke="#4455a6" stroke-width="4.5" stroke-linejoin="round" stroke-linecap="round"/>
</svg></body></html>
